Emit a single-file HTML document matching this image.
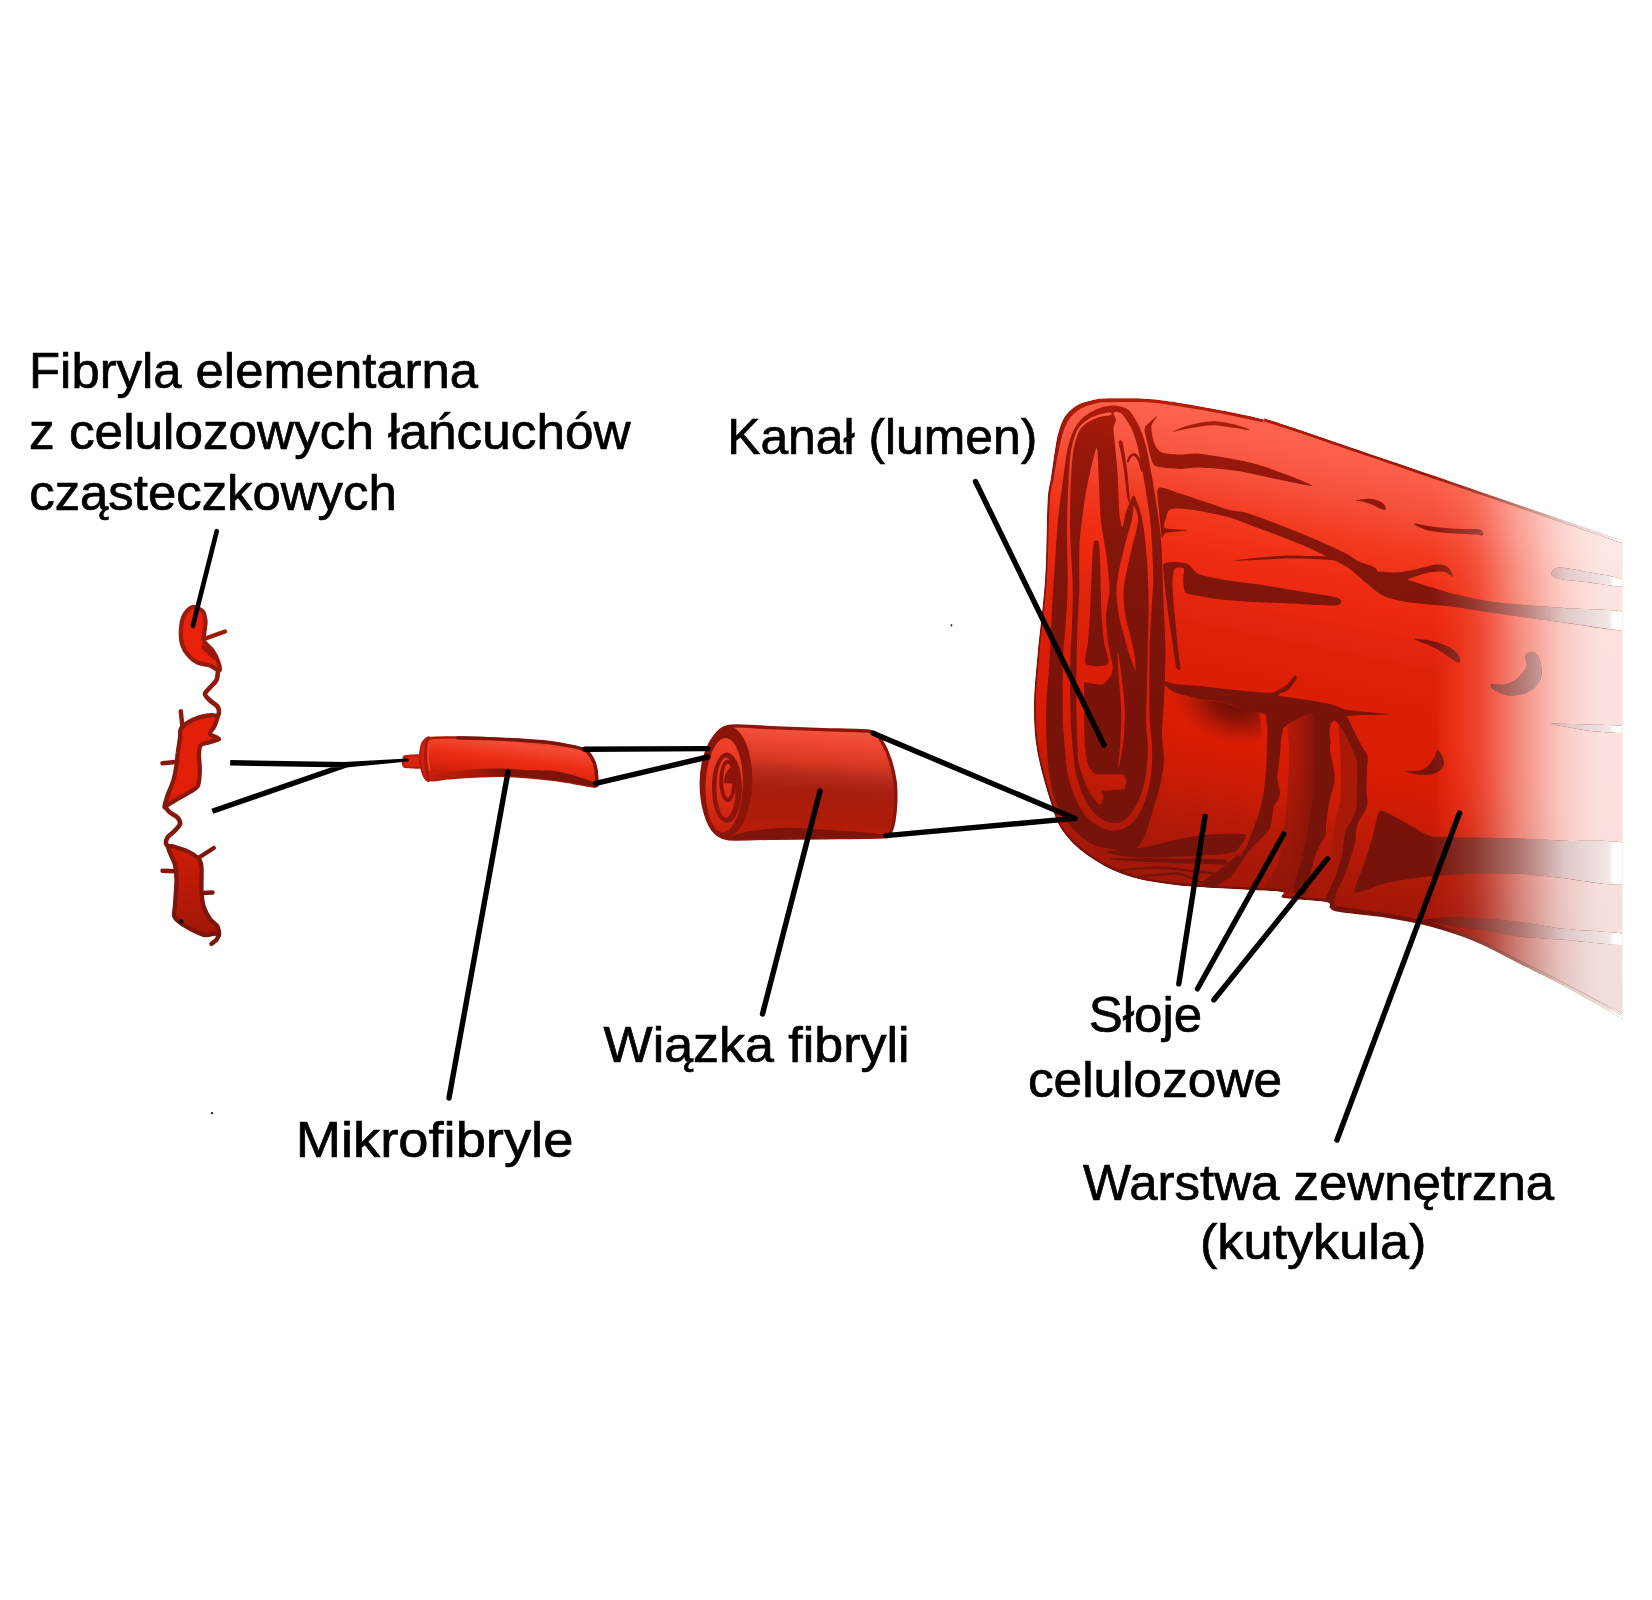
<!DOCTYPE html>
<html lang="pl">
<head>
<meta charset="utf-8">
<title>Budowa włókna bawełny</title>
<style>
html,body{margin:0;padding:0;background:#fff;}
body{width:1652px;height:1600px;overflow:hidden;}
svg{display:block;}
text{font-family:"Liberation Sans",sans-serif;fill:#000;}
.ln{stroke:#000;stroke-width:5.4;stroke-linecap:round;fill:none;}
</style>
</head>
<body>
<svg width="1652" height="1600" viewBox="0 0 1652 1600">
<defs>
<linearGradient id="gBody" gradientUnits="userSpaceOnUse" x1="1250" y1="400" x2="1150" y2="900"><stop offset="0" stop-color="#fd6651"/><stop offset="0.08" stop-color="#fb5f4a"/><stop offset="0.154" stop-color="#f6503a"/><stop offset="0.229" stop-color="#f23a20"/><stop offset="0.3" stop-color="#f02e14"/><stop offset="0.36" stop-color="#ec2910"/><stop offset="0.42" stop-color="#e2250f"/><stop offset="0.46" stop-color="#de220a"/><stop offset="0.54" stop-color="#dd1e06"/><stop offset="0.62" stop-color="#dc1d05"/><stop offset="0.68" stop-color="#d81c04"/><stop offset="0.744" stop-color="#cc1c05"/><stop offset="0.82" stop-color="#b81a07"/><stop offset="0.9" stop-color="#a81808"/><stop offset="1" stop-color="#9a1608"/></linearGradient>
<linearGradient id="gDark" gradientUnits="userSpaceOnUse" x1="1250" y1="400" x2="1200" y2="900"><stop offset="0" stop-color="#bc1f09"/><stop offset="0.06" stop-color="#a81a09"/><stop offset="0.13" stop-color="#98180a"/><stop offset="0.25" stop-color="#8a160a"/><stop offset="0.45" stop-color="#7c140a"/><stop offset="1" stop-color="#74130a"/></linearGradient>
<linearGradient id="gFade" gradientUnits="userSpaceOnUse" x1="1432" y1="0" x2="1622.5" y2="0"><stop offset="0.000" stop-color="#fff" stop-opacity="0.0"/><stop offset="0.079" stop-color="#fff" stop-opacity="0.027"/><stop offset="0.157" stop-color="#fff" stop-opacity="0.054"/><stop offset="0.231" stop-color="#fff" stop-opacity="0.117"/><stop offset="0.304" stop-color="#fff" stop-opacity="0.215"/><stop offset="0.378" stop-color="#fff" stop-opacity="0.332"/><stop offset="0.451" stop-color="#fff" stop-opacity="0.453"/><stop offset="0.525" stop-color="#fff" stop-opacity="0.547"/><stop offset="0.598" stop-color="#fff" stop-opacity="0.646"/><stop offset="0.672" stop-color="#fff" stop-opacity="0.735"/><stop offset="0.745" stop-color="#fff" stop-opacity="0.789"/><stop offset="0.819" stop-color="#fff" stop-opacity="0.834"/><stop offset="0.892" stop-color="#fff" stop-opacity="0.861"/><stop offset="1.000" stop-color="#fff" stop-opacity="0.865"/></linearGradient>
<linearGradient id="gLighten" gradientUnits="userSpaceOnUse" x1="1432" y1="0" x2="1622.5" y2="0"><stop offset="0.000" stop-color="#c81806"/><stop offset="0.042" stop-color="#e2220a"/><stop offset="0.157" stop-color="#ec2a10"/><stop offset="0.462" stop-color="#ec2a10"/><stop offset="1.000" stop-color="#ec2a10"/></linearGradient>
<linearGradient id="gFadeD" gradientUnits="userSpaceOnUse" x1="1432" y1="0" x2="1622.5" y2="0"><stop offset="0" stop-color="#fff" stop-opacity="0"/><stop offset="0.23" stop-color="#fff" stop-opacity="0.16"/><stop offset="0.47" stop-color="#fff" stop-opacity="0.43"/><stop offset="0.7" stop-color="#fff" stop-opacity="0.77"/><stop offset="0.93" stop-color="#fff" stop-opacity="0.9"/><stop offset="0.955" stop-color="#fff" stop-opacity="1"/><stop offset="1" stop-color="#fff" stop-opacity="1"/></linearGradient>
<linearGradient id="gCol" gradientUnits="userSpaceOnUse" x1="1289" y1="0" x2="1317" y2="0"><stop offset="0" stop-color="#7a140a" stop-opacity="0.42"/><stop offset="0.5" stop-color="#7a140a" stop-opacity="0.62"/><stop offset="1" stop-color="#7a140a" stop-opacity="1"/></linearGradient>
<linearGradient id="gOut" gradientUnits="userSpaceOnUse" x1="1040" y1="0" x2="1622.5" y2="0"><stop offset="0" stop-color="#bb1e0a"/><stop offset="0.2" stop-color="#b01c0a"/><stop offset="0.42" stop-color="#8c160a"/><stop offset="0.675" stop-color="#7c1408"/><stop offset="0.75" stop-color="#964238"/><stop offset="0.826" stop-color="#bd8c84"/><stop offset="0.9" stop-color="#e2d0cc"/><stop offset="0.975" stop-color="#f5ecea"/><stop offset="1" stop-color="#ffffff"/></linearGradient>
<radialGradient id="gShadow"><stop offset="0" stop-color="#6a1006" stop-opacity="0.95"/><stop offset="0.3" stop-color="#6a1006" stop-opacity="0.8"/><stop offset="0.6" stop-color="#6a1006" stop-opacity="0.4"/><stop offset="0.85" stop-color="#6a1006" stop-opacity="0.1"/><stop offset="1" stop-color="#6a1006" stop-opacity="0"/></radialGradient>
<linearGradient id="gLm" gradientUnits="userSpaceOnUse" x1="1520" y1="760" x2="1490" y2="880"><stop offset="0" stop-color="#fff"/><stop offset="1" stop-color="#000"/></linearGradient>
<mask id="mLighten" maskUnits="userSpaceOnUse" x="1430" y="380" width="196" height="660"><rect x="1430" y="380" width="196" height="660" fill="url(#gLm)"/></mask>
<clipPath id="cSil"><path d="M1100 398.5C1107 398.5 1130.8 398.1 1142 398.5C1153.2 398.9 1158.7 399.9 1167 401C1175.3 402.1 1181.5 403.2 1192 405C1202.5 406.8 1218.3 409.7 1230 412C1241.7 414.3 1250.3 416 1262 419C1273.7 422 1239.9 409.8 1300 430C1360.1 450.2 1568.8 522.1 1622.5 540.5L1622.5 1019C1612.8 1013.5 1581.1 995.2 1564 986C1546.9 976.8 1534.7 971.3 1520 964C1505.3 956.7 1490.7 948.2 1476 942C1461.3 935.8 1446.7 931 1432 927C1417.3 923 1403.3 920.5 1388 918C1372.7 915.5 1349.7 913.7 1340 912C1330.3 910.3 1332.3 909.7 1330 908C1327.7 906.3 1333.7 903.7 1326 902C1318.3 900.3 1291.3 899.7 1284 898C1276.7 896.3 1287.7 893.3 1282 892C1276.3 890.7 1267.8 891.2 1250 890C1232.2 888.8 1195.8 887.5 1175 885C1154.2 882.5 1139.7 880 1125 875C1110.3 870 1097.5 862.5 1087 855C1076.5 847.5 1068.2 839.2 1062 830C1055.8 820.8 1054.2 813.3 1050 800C1045.8 786.7 1039.7 765.8 1037 750C1034.3 734.2 1033.9 720.8 1034 705C1034.1 689.2 1035.7 675.8 1037.5 655C1039.3 634.2 1043.3 605.4 1045 580C1046.7 554.6 1046.5 519.6 1047.5 502.5C1048.5 485.4 1049.8 486.2 1051 477.5C1052.2 468.8 1053.7 457.8 1055 450C1056.3 442.2 1056.9 436.8 1058.8 431C1060.6 425.2 1062.5 419.5 1066 415C1069.5 410.5 1074.3 406.5 1080 403.8C1085.7 401 1096.7 399.4 1100 398.5Z"/></clipPath>
<filter id="fBlur" x="-50%" y="-50%" width="200%" height="200%"><feGaussianBlur stdDeviation="9"/></filter>
<clipPath id="cRing"><path d="M1100 398.5C1107 398.5 1130.8 398.1 1142 398.5C1153.2 398.9 1158.7 399.9 1167 401C1175.3 402.1 1181.5 403.2 1192 405C1202.5 406.8 1218.3 409.7 1230 412C1241.7 414.3 1250.3 416 1262 419C1273.7 422 1239.9 409.8 1300 430C1360.1 450.2 1568.8 522.1 1622.5 540.5L1622.5 1019C1612.8 1013.5 1581.1 995.2 1564 986C1546.9 976.8 1534.7 971.3 1520 964C1505.3 956.7 1490.7 948.2 1476 942C1461.3 935.8 1446.7 931 1432 927C1417.3 923 1403.3 920.5 1388 918C1372.7 915.5 1349.7 913.7 1340 912C1330.3 910.3 1332.3 909.7 1330 908C1327.7 906.3 1333.7 903.7 1326 902C1318.3 900.3 1291.3 899.7 1284 898C1276.7 896.3 1287.7 893.3 1282 892C1276.3 890.7 1267.8 891.2 1250 890C1232.2 888.8 1195.8 887.5 1175 885C1154.2 882.5 1139.7 880 1125 875C1110.3 870 1097.5 862.5 1087 855C1076.5 847.5 1068.2 839.2 1062 830C1055.8 820.8 1054.2 813.3 1050 800C1045.8 786.7 1039.7 765.8 1037 750C1034.3 734.2 1033.9 720.8 1034 705C1034.1 689.2 1035.7 675.8 1037.5 655C1039.3 634.2 1043.3 605.4 1045 580C1046.7 554.6 1046.5 519.6 1047.5 502.5C1048.5 485.4 1049.8 486.2 1051 477.5C1052.2 468.8 1053.7 457.8 1055 450C1056.3 442.2 1056.9 436.8 1058.8 431C1060.6 425.2 1062.5 419.5 1066 415C1069.5 410.5 1074.3 406.5 1080 403.8C1085.7 401 1096.7 399.4 1100 398.5Z M1100.3 402.3C1107.2 402.3 1130.8 401.7 1141.9 402.1C1152.9 402.5 1158.3 403.4 1166.5 404.5C1174.8 405.5 1180.9 406.6 1191.4 408.3C1201.9 410.1 1217.7 412.9 1229.4 415.2C1241 417.5 1249.6 419.2 1261.2 422.1C1272.8 425 1238.7 412.6 1299 432.8C1359.4 453.1 1569.3 525.1 1623.4 543.5L1623.4 1016C1613.7 1010.6 1582.4 992.5 1565.4 983.4C1548.4 974.2 1536.1 968.7 1521.3 961.3C1506.6 954 1491.9 945.4 1477.2 939.2C1462.4 933 1447.6 928.1 1432.8 924.1C1418 920.1 1403.9 917.5 1388.5 915C1373.1 912.5 1350 910.6 1340.5 909C1331.1 907.5 1334.1 907.2 1331.7 905.6C1329.4 903.9 1334.5 900.8 1326.6 899.1C1318.8 897.4 1291.9 897.1 1284.6 895.5C1277.2 893.9 1288.3 890.8 1282.6 889.5C1276.9 888.1 1268.1 888.6 1250.2 887.4C1232.3 886.2 1196 884.9 1175.3 882.4C1154.6 879.9 1140.3 877.4 1125.8 872.5C1111.4 867.6 1098.7 860.3 1088.4 853C1078.1 845.8 1069.9 837.7 1063.8 828.8C1057.7 819.8 1056.1 812.6 1051.9 799.4C1047.8 786.2 1041.6 765.4 1038.9 749.7C1036.2 734 1035.7 720.8 1035.8 705C1035.9 689.3 1037.5 676 1039.3 655.2C1041.1 634.3 1045.1 605.5 1046.8 580.1C1048.5 554.7 1048.5 519.7 1049.7 502.6C1050.9 485.6 1052.3 486.6 1053.8 477.9C1055.2 469.2 1057 458.2 1058.6 450.6C1060.1 443 1061.2 437.8 1063.1 432.4C1065 427 1066.8 422.2 1069.9 418.1C1073.1 414 1076.9 410.5 1082 407.9C1087.1 405.3 1097.3 403.2 1100.3 402.3Z" clip-rule="evenodd"/></clipPath>
<clipPath id="cDark"><path d="M1172.5 431.8C1172.1 431.3 1183.3 426.8 1190 425C1196.7 423.2 1205 421.3 1212.5 421.2C1220 421.2 1228.8 423 1235 424.5C1241.2 426 1250 429.4 1250 430C1250 430.6 1241.2 428.8 1235 428C1228.8 427.2 1219.6 425.3 1212.5 425.2C1205.4 425.2 1199.2 426.7 1192.5 427.8C1185.8 428.8 1172.9 432.2 1172.5 431.8Z"/><path d="M1157.2 416C1157.5 416.4 1152.1 423 1151.5 426C1150.9 429 1152.3 435.8 1153 438.7C1153.7 441.6 1155.1 445.6 1156.4 447.5C1157.7 449.4 1159.4 451.8 1162.5 452.7C1165.6 453.6 1175 454.4 1180 454.5C1185 454.6 1190.7 452.7 1200 453.8C1209.3 454.8 1238.3 459.7 1250 462.5C1261.7 465.3 1279.2 471.9 1287.5 475C1295.8 478.1 1314.2 485.5 1312.5 486C1310.8 486.5 1285 480.8 1275 478.8C1265 476.8 1247.5 472.5 1237.5 471C1227.5 469.5 1207.7 467.8 1200 467.5C1192.3 467.2 1185 469 1180 469C1175 469 1166 468.1 1162.5 467.6C1159 467.1 1155.7 466.7 1154 465C1152.3 463.3 1150.9 457.8 1150 455C1149.1 452.2 1148.3 447.5 1147.6 444C1146.9 440.5 1144.3 431.8 1144.5 429C1144.7 426.2 1147.3 424.7 1149 423C1150.7 421.3 1156.9 415.6 1157.2 416Z"/><path d="M1158.5 488C1161.3 485.8 1174.1 491.8 1180 493.5C1185.9 495.2 1195.8 498.8 1202.5 501C1209.2 503.2 1223.7 508.3 1230 510C1236.3 511.7 1240.7 510.9 1250 514C1259.3 517.1 1287.5 527.9 1300 533C1312.5 538.1 1334.3 547.6 1344 552.5C1353.7 557.4 1364.7 566.5 1372.6 570C1380.5 573.5 1392.5 575.2 1403.4 578.4C1414.3 581.6 1441.4 590.6 1454 593.8C1466.6 597 1483.3 600.7 1498 602.6C1512.7 604.5 1547.2 606.7 1564 608C1580.8 609.3 1616 609.1 1624 612C1632 614.9 1632 628.6 1624 630C1616 631.4 1580.8 624.6 1564 622.4C1547.2 620.2 1512.7 615.7 1498 613.6C1483.3 611.5 1465.7 608.5 1454 607C1442.3 605.5 1419.4 604.1 1410 602.6C1400.6 601.1 1389.5 598.6 1383.6 596C1377.7 593.4 1371.3 586.9 1366 582.8C1360.7 578.7 1352.8 570.4 1344 565.2C1335.2 560 1312.5 549.4 1300 544C1287.5 538.6 1259.3 528.5 1250 525C1240.7 521.5 1236.3 519.3 1230 517.5C1223.7 515.7 1209.2 512.7 1202.5 511.5C1195.8 510.3 1184.4 508.7 1180 508.5C1175.6 508.3 1171.4 508.7 1169.5 510C1167.6 511.3 1166.6 515.6 1166 518C1165.4 520.4 1162.1 526.4 1165 528C1167.9 529.6 1187.4 529.6 1187.5 530.3C1187.6 531 1169.4 532 1166 533C1162.6 534 1162.7 539.1 1162 538C1161.3 536.9 1160.9 528.7 1160.5 525C1160.1 521.3 1159.3 514.9 1159 510C1158.7 505.1 1155.7 490.2 1158.5 488Z"/><path d="M1372.6 571.8C1374.9 570.6 1391.4 572.9 1399 572.3C1406.6 571.6 1417.6 568.6 1423.2 567.4C1428.8 566.3 1432.7 564.6 1436.4 564.5C1440.1 564.5 1445.4 565.1 1447.8 567C1450.3 568.8 1453.1 576.1 1452.7 576.9C1452.3 577.6 1448.3 572.8 1445.2 572C1442.1 571.3 1436.6 571.3 1432 572C1427.4 572.7 1418.7 575.4 1414.4 576.7C1410.1 577.9 1408 580 1403.4 580.6C1398.8 581.2 1388.2 581.9 1383.6 580.6C1379 579.3 1370.3 573.1 1372.6 571.8Z"/><path d="M1236 560.8C1240.4 560.7 1253.6 560.1 1262.1 559.7C1270.6 559.3 1278.7 558.6 1287 558.5C1295.3 558.4 1304.3 558.7 1312 559C1319.6 559.3 1326.2 559.3 1332.8 560.3C1339.3 561.3 1344.6 562.3 1351.2 564.9C1357.8 567.4 1368.4 575.1 1372.4 575.7C1376.5 576.2 1378.9 570.9 1375.6 568.3C1372.3 565.7 1359.8 562.1 1352.8 560.1C1345.7 558.2 1340 557.4 1333.2 556.7C1326.4 556 1319.8 556.2 1312 556C1304.3 555.8 1295.3 555.3 1287 555.5C1278.6 555.7 1270.4 556.5 1261.9 557.3C1253.4 558.1 1240.3 559.6 1236 560.2C1231.7 560.8 1231.7 560.9 1236 560.8Z"/><path d="M1163.8 563.8C1165.1 562.2 1172.2 562 1175 562C1177.8 562 1185.3 562.8 1187.5 563.8C1189.7 564.7 1192.3 568.7 1193.8 570C1195.2 571.3 1196.4 573.3 1200 574.5C1203.6 575.7 1217.7 578.8 1225 580C1232.3 581.2 1253.8 583.7 1262.5 585C1271.2 586.3 1291.5 589.9 1300 591.2C1308.5 592.6 1330.2 595.8 1335 597C1339.8 598.2 1341.5 600.3 1341.5 601.2C1341.5 602.2 1339.8 605.2 1335 605.5C1330.2 605.8 1308.5 604.4 1300 604C1291.5 603.6 1271.2 603 1262.5 602.5C1253.8 602 1232.3 600.7 1225 600C1217.7 599.3 1204.6 597.1 1200 596.2C1195.4 595.4 1187.5 594.4 1185.5 592.5C1183.5 590.6 1183.5 582.8 1183.2 580C1183 577.2 1184.7 569.8 1183.8 568.5C1182.8 567.2 1176.6 567.2 1175.2 568.5C1173.9 569.8 1172.7 575.7 1172.5 580C1172.3 584.3 1173.3 599.2 1173.8 605C1174.2 610.8 1175.7 624.2 1176.2 630C1176.8 635.8 1178.3 650.5 1178.8 655C1179.2 659.5 1180.8 667.3 1180.5 668.8C1180.2 670.2 1177.2 670.6 1176.2 667.5C1175.3 664.4 1173.4 648.3 1172.5 642.5C1171.6 636.7 1169.6 623.3 1168.8 617.5C1167.9 611.7 1166.1 597.5 1165.5 592.5C1164.9 587.5 1164 578.4 1163.8 575C1163.5 571.6 1162.4 565.3 1163.8 563.8Z"/><path d="M1356.1 500.3C1357.2 499.8 1366 498.4 1370.4 498.8C1374.8 499.2 1379.9 501 1382.5 502.7C1385.1 504.5 1386.1 508.3 1385.8 509.3C1385.6 510.4 1383.2 509.9 1381 509.1C1378.8 508.3 1375.5 505.9 1372.6 504.7C1369.8 503.5 1366.6 502.6 1363.8 501.9C1361.1 501.1 1355 500.8 1356.1 500.3Z"/><path d="M1414.4 523.4C1416.6 523.3 1425.4 525.6 1432 526.5C1438.6 527.4 1446.7 528.2 1454 528.7C1461.4 529.1 1471.3 528.7 1476 529.1C1480.7 529.5 1481.1 530 1482.2 531.1C1483.3 532.2 1483.6 535.1 1482.6 535.7C1481.6 536.3 1480.8 535 1476 534.6C1471.3 534.3 1461.4 534.1 1454 533.5C1446.7 533 1437.9 532.4 1432 531.3C1426.1 530.2 1421.7 528.2 1418.8 526.9C1415.9 525.6 1412.2 523.5 1414.4 523.4Z"/><path d="M1414.4 638.9C1415.1 638.3 1426.1 639.5 1432 640.9C1437.9 642.3 1445.2 644.9 1449.6 647.3C1454 649.6 1456.7 652.5 1458.4 655C1460.1 657.5 1460.8 661.8 1459.7 662.5C1458.6 663.1 1455 660.8 1451.8 658.9C1448.7 657.1 1444.8 653.8 1440.8 651.5C1436.8 649.1 1432 646.7 1427.6 644.6C1423.2 642.5 1413.7 639.5 1414.4 638.9Z"/><path d="M1525.5 655.4C1526.6 653 1531 651.5 1533.2 651.9C1535.5 652.3 1537.5 654.1 1538.9 657.6C1540.4 661.1 1542 668.6 1541.8 673C1541.6 677.4 1540.1 680.7 1537.6 684C1535.1 687.3 1531.4 690.9 1526.6 692.8C1521.9 694.7 1514.5 696 1509 695.5C1503.5 695 1496.6 691.7 1493.6 689.8C1490.7 687.8 1489.6 684.9 1491.4 684C1493.3 683.1 1500.2 685.5 1504.6 684.5C1509 683.4 1514.2 680.9 1517.8 677.9C1521.5 674.9 1525.3 670.2 1526.6 666.4C1527.9 662.7 1524.4 657.8 1525.5 655.4Z"/><path d="M1437.5 750.2C1439 750.1 1442 754.6 1443 757.2C1444 759.9 1444.5 763.4 1443.5 766C1442.4 768.6 1439.8 771.3 1436.4 772.8C1433 774.3 1428.3 775.2 1423.2 775C1418.1 774.8 1406.3 772.2 1405.6 771.5C1404.9 770.8 1415.1 771.5 1418.8 770.6C1422.5 769.8 1425 768.4 1427.6 766.2C1430.2 764.1 1432.6 760.3 1434.2 757.6C1435.9 755 1436 750.2 1437.5 750.2Z"/><path d="M1551.9 571.8C1553 570.4 1553.9 567.6 1559.6 567.6C1565.3 567.6 1575.8 569.9 1586 571.8C1596.3 573.7 1615.4 576.4 1621.2 578.9C1627.1 581.3 1627.1 585.8 1621.2 586.3C1615.4 586.9 1595.6 583 1586 581.9C1576.5 580.8 1569.5 580.7 1564 579.7C1558.5 578.8 1555 577.8 1553 576.4C1551 575.1 1550.8 573.3 1551.9 571.8Z"/><path d="M1550.8 723.6C1550.8 723 1579 724.3 1586 724.5C1593.1 724.7 1617.7 725 1621.2 725.8C1624.8 726.7 1624.8 732.4 1621.2 732.9C1617.7 733.3 1593.1 731.4 1586 730.5C1579 729.5 1550.8 724.2 1550.8 723.6Z"/><path d="M1164 681C1165.2 680.9 1170.8 683.4 1175 684C1179.2 684.6 1194.2 685.4 1200 686C1205.8 686.6 1219.2 688.4 1225 689C1230.8 689.6 1244.5 691.1 1250 691.5C1255.5 691.9 1268.1 693.4 1272.5 692.5C1276.9 691.6 1284.9 686 1287.5 684C1290.1 682 1294 675.6 1295 675C1296 674.4 1297.3 677.2 1296.5 679C1295.7 680.8 1290.2 688.1 1288 690C1285.8 691.9 1276.6 694.5 1278 695.5C1279.4 696.5 1294.2 697.8 1300 698.8C1305.8 699.7 1323.3 702.5 1328 703.5C1332.7 704.5 1337.7 706.7 1340 707.5C1342.3 708.3 1342.2 709.2 1348 710C1353.8 710.8 1389.2 713.7 1390 714.3C1390.8 714.9 1360.1 715.1 1355 715.4C1349.9 715.7 1348.2 716 1346 716.5C1343.8 717 1337.9 718.7 1336 719.5C1334.1 720.3 1332.3 723.6 1330 723C1327.7 722.4 1318.8 714.9 1316 714C1313.2 713.1 1309 714 1306 715C1303 716 1292.8 721.5 1290 723C1287.2 724.5 1284.6 728.8 1282 728C1279.4 727.2 1270.6 717.8 1268 716C1265.4 714.2 1261.6 713.4 1259.5 712.8C1257.4 712.2 1252.3 711.6 1250 711C1247.7 710.4 1242.9 709 1240 708C1237.1 707 1229.7 703.6 1225 702.5C1220.3 701.4 1205.8 699.9 1200 698.8C1194.2 697.6 1179.1 694.1 1175 692.5C1170.9 690.9 1166.3 686.3 1165 685C1163.7 683.7 1162.8 681.1 1164 681Z"/><path d="M1266.8 714C1264.8 714.4 1267.5 725.2 1267.5 730C1267.5 734.8 1267.2 744.7 1267 750C1266.8 755.3 1266.4 764.7 1266 770C1265.6 775.3 1264.8 784.7 1264 790C1263.2 795.3 1261.5 804.7 1260 810C1258.5 815.3 1254.7 825.3 1253 830C1251.3 834.7 1248.7 841.5 1247 845C1245.3 848.5 1241.3 854.7 1240 856C1238.7 857.3 1240.3 853.1 1237.5 855C1234.7 856.9 1223.3 866.4 1218.8 870C1214.2 873.6 1205 879.9 1203 882C1201 884.1 1202.7 885.2 1204 886C1205.3 886.8 1208.9 889.3 1212.5 888C1216.1 886.7 1226.9 879.7 1231 876C1235.1 872.3 1240.5 863.5 1243 860C1245.5 856.5 1247.7 852.7 1250 850C1252.3 847.3 1257.3 842.9 1260 840C1262.7 837.1 1268.3 831.3 1270 828C1271.7 824.7 1272 817.9 1272.5 815C1273 812.1 1273.3 808 1274 806C1274.7 804 1277.2 801.9 1278 800C1278.8 798.1 1280.1 794.9 1280 792C1279.9 789.1 1277.5 782.9 1277.5 778C1277.5 773.1 1279.5 760.1 1280 755C1280.5 749.9 1280.7 743.7 1281 740C1281.3 736.3 1284.3 730.5 1282.4 727C1280.5 723.5 1268.8 713.6 1266.8 714Z"/><path d="M1316 712.6C1314.1 714.9 1316.1 732.3 1316 740C1315.9 747.7 1315.8 763.3 1315.5 770C1315.2 776.7 1314.6 784.7 1314 790C1313.4 795.3 1311.8 804.7 1311 810C1310.2 815.3 1308.9 824.7 1308 830C1307.1 835.3 1304.8 846 1304 850C1303.2 854 1302.9 856.7 1302 860C1301.1 863.3 1298.1 870.7 1297 875C1295.9 879.3 1292.8 889.5 1294 892C1295.2 894.5 1303.9 896.1 1306 894C1308.1 891.9 1308.9 880.5 1310 876C1311.1 871.5 1313.2 863.1 1314 860C1314.8 856.9 1315.2 855 1316 853C1316.8 851 1318.7 847.4 1320 845C1321.3 842.6 1324.7 837.7 1325.5 835C1326.3 832.3 1325.7 828.3 1326 825C1326.3 821.7 1327.3 814 1328 810C1328.7 806 1330.2 798.3 1331 795C1331.8 791.7 1333.5 787.7 1334 785C1334.5 782.3 1334.6 777.7 1334.5 775C1334.4 772.3 1333.6 768.3 1333 765C1332.4 761.7 1330.3 753.1 1330 750C1329.7 746.9 1330.6 744.7 1330.5 742C1330.4 739.3 1329.5 732.6 1329.5 730C1329.5 727.4 1332 724.9 1330.2 722.6C1328.4 720.3 1317.9 710.3 1316 712.6Z"/><path d="M1335 719C1334.2 720.3 1338.3 723.2 1340 726C1341.7 728.8 1346 736 1348 740C1350 744 1353.8 752.7 1355 756C1356.2 759.3 1356.7 760.5 1357 765C1357.3 769.5 1357.1 784.7 1357 790C1356.9 795.3 1356.9 801.7 1356.5 805C1356.1 808.3 1354.9 812.6 1354 815C1353.1 817.4 1351.1 821 1350 823C1348.9 825 1346.8 827.7 1346 830C1345.2 832.3 1344.5 836.7 1344 840C1343.5 843.3 1343.1 850.3 1342 855C1340.9 859.7 1337.9 869.9 1336 875C1334.1 880.1 1329.5 889.5 1328 893C1326.5 896.5 1324.3 898.7 1325 901C1325.7 903.3 1331.5 911 1333 910C1334.5 909 1334.3 898.7 1336 893.6C1337.7 888.5 1343.5 878.7 1346 872C1348.5 865.3 1353.7 848.3 1355 843C1356.3 837.7 1355.6 834.7 1356 832C1356.4 829.3 1356.7 825.9 1358 823C1359.3 820.1 1364.2 812.8 1365.5 810C1366.8 807.2 1367.4 804.7 1367.5 802C1367.6 799.3 1366.6 794.3 1366.5 790C1366.4 785.7 1366.9 774.5 1367 770C1367.1 765.5 1368 758.9 1367.5 756C1367 753.1 1364.7 751.1 1363 748C1361.3 744.9 1357.3 737.3 1355 733C1352.7 728.7 1348.7 717.9 1346 716C1343.3 714.1 1335.8 717.7 1335 719Z"/><path d="M1380 811C1382.6 809.3 1395.6 817.3 1399 819C1402.4 820.7 1410.7 825.9 1414 827.6C1417.3 829.3 1425.8 835.4 1432 836.4C1438.2 837.4 1467.2 837.3 1476 837.5C1484.8 837.7 1511.2 838.3 1520 838.6C1528.8 838.9 1553.6 840.3 1564 840.8C1574.4 841.3 1618 839.2 1624 843.5C1630 847.8 1630 880.5 1624 884C1618 887.5 1574.4 879.2 1564 878.2C1553.6 877.2 1528.8 874.2 1520 873.8C1511.2 873.4 1484.8 873.6 1476 873.8C1467.2 874 1440.8 875.1 1432 876C1423.2 876.9 1395.7 881 1388 882.6C1380.3 884.2 1357.4 894.3 1355 892.5C1352.6 890.7 1362 870.6 1363.8 865C1365.6 859.4 1371 841.8 1372.6 836.4C1374.2 831 1377.4 812.7 1380 811Z"/><path d="M1423 920C1423 918.7 1446.9 917 1454 916.7C1461.1 916.4 1467.2 917.1 1476 917.8C1484.8 918.5 1508.3 920.5 1520 922C1531.7 923.5 1550.1 927.2 1564 928.8C1577.9 930.4 1616 931.8 1624 934C1632 936.2 1632 944.2 1624 945C1616 945.8 1577.9 940.9 1564 939.8C1550.1 938.7 1530.3 937.7 1520 936.5C1509.7 935.3 1495.8 932.3 1487 931C1478.2 929.7 1462.5 928.1 1454 926.6C1445.5 925.1 1423 921.3 1423 920Z"/><path d="M1325 899C1326.2 899.3 1331.2 903.9 1334 905C1336.8 906.1 1338.8 906.4 1346 907.5C1353.2 908.6 1376.5 911.5 1388 913.5C1399.5 915.5 1420.3 919.2 1432 922.5C1443.7 925.8 1464.3 932.9 1476 938C1487.7 943.1 1508.3 954.5 1520 960.5C1531.7 966.5 1550.1 975.8 1564 983C1577.9 990.2 1616 1009.7 1624 1014.5C1632 1019.3 1632 1022.7 1624 1019C1616 1015.3 1577.9 994.2 1564 987C1550.1 979.8 1531.7 970.9 1520 965C1508.3 959.1 1487.7 947.9 1476 943C1464.3 938.1 1443.7 931.2 1432 928C1420.3 924.8 1400.3 921 1388 919C1375.7 917 1347.7 914.3 1340 913C1332.3 911.7 1332 910.3 1330 909C1328 907.7 1325.7 904.3 1325 903C1324.3 901.7 1323.8 898.7 1325 899Z"/><path d="M1105 852C1105.7 850.9 1128.3 849.7 1135 848.8C1141.7 847.8 1149 846.3 1155 845C1161 843.7 1173.3 840.1 1180 838.8C1186.7 837.4 1198.2 835.7 1205 835C1211.8 834.3 1225.5 833.8 1231 833.8C1236.5 833.8 1244.5 833.8 1246 835C1247.5 836.2 1243.8 840.4 1242.5 842.5C1241.2 844.6 1238.3 849.5 1236 851C1233.7 852.5 1229.1 853.1 1225 853.8C1220.9 854.4 1211 855.1 1205 855.5C1199 855.9 1186.7 856.2 1180 856.5C1173.3 856.8 1161.7 857.4 1155 857.5C1148.3 857.6 1136.7 857.7 1130 857C1123.3 856.3 1104.3 853.1 1105 852Z"/><path d="M1113.7 860C1118.5 860.6 1131.4 861.2 1142.4 861.7C1153.5 862.3 1169.5 862.9 1180 863.2C1190.4 863.6 1198 863.7 1205 863.9C1211.9 864.1 1218.3 864.4 1221.9 864.4C1225.5 864.4 1225.6 864.4 1226.4 863.7C1227.2 863.1 1227.3 861 1226.6 860.3C1225.9 859.5 1225.7 859.5 1222.1 859.2C1218.5 858.9 1212.1 858.8 1205 858.7C1198 858.6 1190.5 858.8 1180 858.8C1169.6 858.7 1153.6 858.4 1142.6 858.3C1131.5 858.1 1118.6 857.7 1113.8 858C1109 858.3 1108.9 859.4 1113.7 860Z"/><path d="M1117.6 871.4C1120.7 871.4 1130.1 870.2 1136.3 869.8C1142.6 869.4 1148.8 868.9 1155 869C1161.2 869 1167.4 869.4 1173.6 869.9C1179.9 870.5 1186.1 871.7 1192.4 872.4C1198.6 873.2 1204.8 873.5 1211.1 874.3C1217.3 875.1 1226.6 877.3 1229.8 877.5C1233 877.7 1233.2 876.4 1230.2 875.5C1227.1 874.6 1217.7 872.8 1211.4 871.9C1205.2 871 1198.9 870.8 1192.6 870.1C1186.4 869.3 1180.1 868.1 1173.9 867.6C1167.6 867 1161.3 866.5 1155 866.5C1148.7 866.6 1142.4 867.1 1136.2 867.7C1129.9 868.2 1120.5 869.3 1117.4 869.9C1114.3 870.5 1114.4 871.4 1117.6 871.4Z"/><path d="M1130.1 878.9C1133.3 878.8 1142.6 877.3 1148.9 876.7C1155.1 876.1 1162.4 875.5 1167.6 875.2C1172.7 874.9 1175.7 874.4 1179.8 875.2C1183.9 876 1187.9 878.2 1192.1 879.9C1196.2 881.5 1202.4 884.4 1204.6 884.9C1206.8 885.5 1207.3 884.3 1205.4 883.1C1203.4 881.9 1197.1 879.3 1192.9 877.6C1188.8 875.9 1184.5 873.6 1180.2 872.8C1176 872 1172.7 872.5 1167.4 872.8C1162.2 873.1 1154.9 873.8 1148.6 874.5C1142.4 875.3 1133 876.7 1129.9 877.4C1126.8 878.1 1126.9 879 1130.1 878.9Z"/><path d="M1112 405.5C1107.7 405.5 1099.9 407.8 1096 409.5C1092.1 411.2 1085.5 415.2 1082.5 418C1079.5 420.8 1075.4 426.6 1073.5 430.5C1071.6 434.4 1069.1 442.4 1068 447C1066.9 451.6 1065.8 459.6 1065 465C1064.2 470.4 1062.8 481.5 1062 487.5C1061.2 493.5 1059.7 504 1059 510C1058.3 516 1057.5 526.5 1057 532.5C1056.5 538.5 1055.9 549 1055.5 555C1055.1 561 1054.4 571.5 1054 577.5C1053.6 583.5 1052.9 593 1052.5 600C1052.1 607 1051.3 623.3 1051 630C1050.7 636.7 1050.3 644 1050 650C1049.7 656 1049 668.3 1048.5 675C1048 681.7 1046.8 693.3 1046.5 700C1046.2 706.7 1045.9 718.3 1046 725C1046.1 731.7 1046.6 743.7 1047 750C1047.4 756.3 1048.1 765.7 1049 772C1049.9 778.3 1052.4 791.7 1054 797C1055.6 802.3 1058.6 807.9 1061 812C1063.4 816.1 1068.1 823.9 1072 828C1075.9 832.1 1084.9 840.2 1090 843C1095.1 845.8 1104.3 848.1 1110 849C1115.7 849.9 1128.9 850.8 1133 850C1137.1 849.2 1139.3 845.3 1141 843C1142.7 840.7 1144.5 837.1 1146 833C1147.5 828.9 1150.6 818.3 1152.5 812C1154.4 805.7 1158.5 792.9 1160 786C1161.5 779.1 1163.7 766.8 1164 760C1164.3 753.2 1162 743 1162 735C1162 727 1163.5 711.3 1164 700C1164.5 688.7 1165.6 663.3 1165.5 650C1165.4 636.7 1164 614 1163.5 600C1163 586 1162.2 556.3 1161.5 545C1160.8 533.7 1159.3 524.1 1158 515C1156.7 505.9 1153.6 486.2 1152 477C1150.4 467.8 1147.7 452.8 1146 446C1144.3 439.2 1141.4 430.9 1139 426C1136.6 421.1 1131.6 412.2 1128 409.5C1124.4 406.8 1116.3 405.5 1112 405.5Z"/></clipPath>
<clipPath id="cShadow"><path d="M1160 684L1175 692.5L1200 698.75L1225 702.5L1240 708L1259.5 712.8L1261.5 730L1260.5 750L1259 770L1256 790L1250 810L1240 830L1150 860L1160 760Z"/></clipPath>
<linearGradient id="gEl" gradientUnits="userSpaceOnUse" x1="0" y1="606" x2="0" y2="945"><stop offset="0" stop-color="#ea220b"/><stop offset="0.55" stop-color="#e11e08"/><stop offset="0.75" stop-color="#c81b08"/><stop offset="1" stop-color="#9c1608"/></linearGradient>
<linearGradient id="gElS" gradientUnits="userSpaceOnUse" x1="0" y1="606" x2="0" y2="945"><stop offset="0" stop-color="#a01b0c"/><stop offset="0.35" stop-color="#8a190c"/><stop offset="1" stop-color="#7c140a"/></linearGradient>
<linearGradient id="gMi" gradientUnits="userSpaceOnUse" x1="510" y1="738" x2="505" y2="779"><stop offset="0" stop-color="#e23a24"/><stop offset="0.12" stop-color="#f34c35"/><stop offset="0.5" stop-color="#ee2f17"/><stop offset="0.85" stop-color="#d9230d"/><stop offset="1" stop-color="#c81e0a"/></linearGradient>
<linearGradient id="gMiU" gradientUnits="userSpaceOnUse" x1="432" y1="0" x2="597" y2="0"><stop offset="0" stop-color="#c01d0a"/><stop offset="0.25" stop-color="#a8190a"/><stop offset="0.42" stop-color="#7d140a"/><stop offset="1" stop-color="#7a130a"/></linearGradient>
<linearGradient id="gBu" gradientUnits="userSpaceOnUse" x1="800" y1="728" x2="792" y2="838"><stop offset="0" stop-color="#f4543f"/><stop offset="0.12" stop-color="#ee4631"/><stop offset="0.3" stop-color="#d83822"/><stop offset="0.4" stop-color="#b82c1c"/><stop offset="0.55" stop-color="#a81e0e"/><stop offset="0.8" stop-color="#ad1b09"/><stop offset="1" stop-color="#bc1d09"/></linearGradient>
<linearGradient id="gBuF" gradientUnits="userSpaceOnUse" x1="0" y1="738" x2="0" y2="834"><stop offset="0" stop-color="#f0412b"/><stop offset="0.5" stop-color="#e2301a"/><stop offset="1" stop-color="#c4200b"/></linearGradient>
</defs>
<g id="wlokno">
<g clip-path="url(#cSil)">
<path d="M1100 398.5C1107 398.5 1130.8 398.1 1142 398.5C1153.2 398.9 1158.7 399.9 1167 401C1175.3 402.1 1181.5 403.2 1192 405C1202.5 406.8 1218.3 409.7 1230 412C1241.7 414.3 1250.3 416 1262 419C1273.7 422 1239.9 409.8 1300 430C1360.1 450.2 1568.8 522.1 1622.5 540.5L1622.5 1019C1612.8 1013.5 1581.1 995.2 1564 986C1546.9 976.8 1534.7 971.3 1520 964C1505.3 956.7 1490.7 948.2 1476 942C1461.3 935.8 1446.7 931 1432 927C1417.3 923 1403.3 920.5 1388 918C1372.7 915.5 1349.7 913.7 1340 912C1330.3 910.3 1332.3 909.7 1330 908C1327.7 906.3 1333.7 903.7 1326 902C1318.3 900.3 1291.3 899.7 1284 898C1276.7 896.3 1287.7 893.3 1282 892C1276.3 890.7 1267.8 891.2 1250 890C1232.2 888.8 1195.8 887.5 1175 885C1154.2 882.5 1139.7 880 1125 875C1110.3 870 1097.5 862.5 1087 855C1076.5 847.5 1068.2 839.2 1062 830C1055.8 820.8 1054.2 813.3 1050 800C1045.8 786.7 1039.7 765.8 1037 750C1034.3 734.2 1033.9 720.8 1034 705C1034.1 689.2 1035.7 675.8 1037.5 655C1039.3 634.2 1043.3 605.4 1045 580C1046.7 554.6 1046.5 519.6 1047.5 502.5C1048.5 485.4 1049.8 486.2 1051 477.5C1052.2 468.8 1053.7 457.8 1055 450C1056.3 442.2 1056.9 436.8 1058.8 431C1060.6 425.2 1062.5 419.5 1066 415C1069.5 410.5 1074.3 406.5 1080 403.8C1085.7 401 1096.7 399.4 1100 398.5Z" fill="url(#gBody)"/>
<g clip-path="url(#cShadow)"><ellipse cx="1234" cy="704" rx="62" ry="40" transform="rotate(14 1234 704)" fill="url(#gShadow)"/></g>
<path d="M1339 723.5C1338.6 727 1339.7 742.5 1340 750C1340.3 757.5 1341 773.3 1341 780C1341 786.7 1340.4 796 1340 800C1339.6 804 1338.7 806.7 1338 810C1337.3 813.3 1335.7 821 1335 825C1334.3 829 1333.7 835.3 1333 840C1332.3 844.7 1331.5 854.7 1330 860C1328.5 865.3 1323.9 875.1 1322 880C1320.1 884.9 1315.5 894.2 1316 897C1316.5 899.8 1324.1 901.9 1326 901C1327.9 900.1 1328.4 894.1 1330 890C1331.6 885.9 1336.1 875.3 1338 870C1339.9 864.7 1343.1 854 1344 850C1344.9 846 1344.2 842.7 1344.5 840C1344.8 837.3 1345.3 832.3 1346 830C1346.7 827.7 1348.9 825 1350 823C1351.1 821 1353.1 817.4 1354 815C1354.9 812.6 1356.1 808.3 1356.5 805C1356.9 801.7 1357.3 796 1357.2 790C1357.1 784 1357 766.4 1356 760C1355 753.6 1351.7 746.8 1350 742C1348.3 737.2 1344.5 726.5 1343 724C1341.5 721.5 1339.4 720 1339 723.5Z" fill="#a91908"/>
<path d="M1289.5 721.5C1285.4 726.6 1289.4 742.2 1289.2 750C1289 757.8 1288.5 773.3 1288.2 780C1287.9 786.7 1287.4 794.7 1287 800C1286.6 805.3 1285.7 814.7 1285 820C1284.3 825.3 1282.8 834.7 1282 840C1281.2 845.3 1280.3 855.3 1279 860C1277.7 864.7 1273.7 871.1 1272 875C1270.3 878.9 1262.8 886.7 1266 889C1269.2 891.3 1291.5 893.9 1296 892C1300.5 890.1 1298.7 879.3 1300 875C1301.3 870.7 1304.4 863.3 1305.5 860C1306.6 856.7 1307.2 854 1308 850C1308.8 846 1310.6 835.3 1311.5 830C1312.4 824.7 1313.7 815.3 1314.5 810C1315.3 804.7 1316.9 795.3 1317.5 790C1318.1 784.7 1318.7 776.7 1319 770C1319.3 763.3 1319.9 747.7 1320 740C1320.1 732.3 1324.1 714.5 1320 712C1315.9 709.5 1293.6 716.4 1289.5 721.5Z" fill="url(#gCol)"/>
<g style="mix-blend-mode:lighten"><rect x="1432" y="380" width="192" height="660" fill="url(#gLighten)" mask="url(#mLighten)"/></g>
<rect x="1432" y="380" width="192" height="660" fill="url(#gFade)"/>
<g fill="url(#gDark)"><path d="M1172.5 431.8C1172.1 431.3 1183.3 426.8 1190 425C1196.7 423.2 1205 421.3 1212.5 421.2C1220 421.2 1228.8 423 1235 424.5C1241.2 426 1250 429.4 1250 430C1250 430.6 1241.2 428.8 1235 428C1228.8 427.2 1219.6 425.3 1212.5 425.2C1205.4 425.2 1199.2 426.7 1192.5 427.8C1185.8 428.8 1172.9 432.2 1172.5 431.8Z"/><path d="M1157.2 416C1157.5 416.4 1152.1 423 1151.5 426C1150.9 429 1152.3 435.8 1153 438.7C1153.7 441.6 1155.1 445.6 1156.4 447.5C1157.7 449.4 1159.4 451.8 1162.5 452.7C1165.6 453.6 1175 454.4 1180 454.5C1185 454.6 1190.7 452.7 1200 453.8C1209.3 454.8 1238.3 459.7 1250 462.5C1261.7 465.3 1279.2 471.9 1287.5 475C1295.8 478.1 1314.2 485.5 1312.5 486C1310.8 486.5 1285 480.8 1275 478.8C1265 476.8 1247.5 472.5 1237.5 471C1227.5 469.5 1207.7 467.8 1200 467.5C1192.3 467.2 1185 469 1180 469C1175 469 1166 468.1 1162.5 467.6C1159 467.1 1155.7 466.7 1154 465C1152.3 463.3 1150.9 457.8 1150 455C1149.1 452.2 1148.3 447.5 1147.6 444C1146.9 440.5 1144.3 431.8 1144.5 429C1144.7 426.2 1147.3 424.7 1149 423C1150.7 421.3 1156.9 415.6 1157.2 416Z"/><path d="M1158.5 488C1161.3 485.8 1174.1 491.8 1180 493.5C1185.9 495.2 1195.8 498.8 1202.5 501C1209.2 503.2 1223.7 508.3 1230 510C1236.3 511.7 1240.7 510.9 1250 514C1259.3 517.1 1287.5 527.9 1300 533C1312.5 538.1 1334.3 547.6 1344 552.5C1353.7 557.4 1364.7 566.5 1372.6 570C1380.5 573.5 1392.5 575.2 1403.4 578.4C1414.3 581.6 1441.4 590.6 1454 593.8C1466.6 597 1483.3 600.7 1498 602.6C1512.7 604.5 1547.2 606.7 1564 608C1580.8 609.3 1616 609.1 1624 612C1632 614.9 1632 628.6 1624 630C1616 631.4 1580.8 624.6 1564 622.4C1547.2 620.2 1512.7 615.7 1498 613.6C1483.3 611.5 1465.7 608.5 1454 607C1442.3 605.5 1419.4 604.1 1410 602.6C1400.6 601.1 1389.5 598.6 1383.6 596C1377.7 593.4 1371.3 586.9 1366 582.8C1360.7 578.7 1352.8 570.4 1344 565.2C1335.2 560 1312.5 549.4 1300 544C1287.5 538.6 1259.3 528.5 1250 525C1240.7 521.5 1236.3 519.3 1230 517.5C1223.7 515.7 1209.2 512.7 1202.5 511.5C1195.8 510.3 1184.4 508.7 1180 508.5C1175.6 508.3 1171.4 508.7 1169.5 510C1167.6 511.3 1166.6 515.6 1166 518C1165.4 520.4 1162.1 526.4 1165 528C1167.9 529.6 1187.4 529.6 1187.5 530.3C1187.6 531 1169.4 532 1166 533C1162.6 534 1162.7 539.1 1162 538C1161.3 536.9 1160.9 528.7 1160.5 525C1160.1 521.3 1159.3 514.9 1159 510C1158.7 505.1 1155.7 490.2 1158.5 488Z"/><path d="M1372.6 571.8C1374.9 570.6 1391.4 572.9 1399 572.3C1406.6 571.6 1417.6 568.6 1423.2 567.4C1428.8 566.3 1432.7 564.6 1436.4 564.5C1440.1 564.5 1445.4 565.1 1447.8 567C1450.3 568.8 1453.1 576.1 1452.7 576.9C1452.3 577.6 1448.3 572.8 1445.2 572C1442.1 571.3 1436.6 571.3 1432 572C1427.4 572.7 1418.7 575.4 1414.4 576.7C1410.1 577.9 1408 580 1403.4 580.6C1398.8 581.2 1388.2 581.9 1383.6 580.6C1379 579.3 1370.3 573.1 1372.6 571.8Z"/><path d="M1236 560.8C1240.4 560.7 1253.6 560.1 1262.1 559.7C1270.6 559.3 1278.7 558.6 1287 558.5C1295.3 558.4 1304.3 558.7 1312 559C1319.6 559.3 1326.2 559.3 1332.8 560.3C1339.3 561.3 1344.6 562.3 1351.2 564.9C1357.8 567.4 1368.4 575.1 1372.4 575.7C1376.5 576.2 1378.9 570.9 1375.6 568.3C1372.3 565.7 1359.8 562.1 1352.8 560.1C1345.7 558.2 1340 557.4 1333.2 556.7C1326.4 556 1319.8 556.2 1312 556C1304.3 555.8 1295.3 555.3 1287 555.5C1278.6 555.7 1270.4 556.5 1261.9 557.3C1253.4 558.1 1240.3 559.6 1236 560.2C1231.7 560.8 1231.7 560.9 1236 560.8Z"/><path d="M1163.8 563.8C1165.1 562.2 1172.2 562 1175 562C1177.8 562 1185.3 562.8 1187.5 563.8C1189.7 564.7 1192.3 568.7 1193.8 570C1195.2 571.3 1196.4 573.3 1200 574.5C1203.6 575.7 1217.7 578.8 1225 580C1232.3 581.2 1253.8 583.7 1262.5 585C1271.2 586.3 1291.5 589.9 1300 591.2C1308.5 592.6 1330.2 595.8 1335 597C1339.8 598.2 1341.5 600.3 1341.5 601.2C1341.5 602.2 1339.8 605.2 1335 605.5C1330.2 605.8 1308.5 604.4 1300 604C1291.5 603.6 1271.2 603 1262.5 602.5C1253.8 602 1232.3 600.7 1225 600C1217.7 599.3 1204.6 597.1 1200 596.2C1195.4 595.4 1187.5 594.4 1185.5 592.5C1183.5 590.6 1183.5 582.8 1183.2 580C1183 577.2 1184.7 569.8 1183.8 568.5C1182.8 567.2 1176.6 567.2 1175.2 568.5C1173.9 569.8 1172.7 575.7 1172.5 580C1172.3 584.3 1173.3 599.2 1173.8 605C1174.2 610.8 1175.7 624.2 1176.2 630C1176.8 635.8 1178.3 650.5 1178.8 655C1179.2 659.5 1180.8 667.3 1180.5 668.8C1180.2 670.2 1177.2 670.6 1176.2 667.5C1175.3 664.4 1173.4 648.3 1172.5 642.5C1171.6 636.7 1169.6 623.3 1168.8 617.5C1167.9 611.7 1166.1 597.5 1165.5 592.5C1164.9 587.5 1164 578.4 1163.8 575C1163.5 571.6 1162.4 565.3 1163.8 563.8Z"/><path d="M1356.1 500.3C1357.2 499.8 1366 498.4 1370.4 498.8C1374.8 499.2 1379.9 501 1382.5 502.7C1385.1 504.5 1386.1 508.3 1385.8 509.3C1385.6 510.4 1383.2 509.9 1381 509.1C1378.8 508.3 1375.5 505.9 1372.6 504.7C1369.8 503.5 1366.6 502.6 1363.8 501.9C1361.1 501.1 1355 500.8 1356.1 500.3Z"/><path d="M1414.4 523.4C1416.6 523.3 1425.4 525.6 1432 526.5C1438.6 527.4 1446.7 528.2 1454 528.7C1461.4 529.1 1471.3 528.7 1476 529.1C1480.7 529.5 1481.1 530 1482.2 531.1C1483.3 532.2 1483.6 535.1 1482.6 535.7C1481.6 536.3 1480.8 535 1476 534.6C1471.3 534.3 1461.4 534.1 1454 533.5C1446.7 533 1437.9 532.4 1432 531.3C1426.1 530.2 1421.7 528.2 1418.8 526.9C1415.9 525.6 1412.2 523.5 1414.4 523.4Z"/><path d="M1414.4 638.9C1415.1 638.3 1426.1 639.5 1432 640.9C1437.9 642.3 1445.2 644.9 1449.6 647.3C1454 649.6 1456.7 652.5 1458.4 655C1460.1 657.5 1460.8 661.8 1459.7 662.5C1458.6 663.1 1455 660.8 1451.8 658.9C1448.7 657.1 1444.8 653.8 1440.8 651.5C1436.8 649.1 1432 646.7 1427.6 644.6C1423.2 642.5 1413.7 639.5 1414.4 638.9Z"/><path d="M1525.5 655.4C1526.6 653 1531 651.5 1533.2 651.9C1535.5 652.3 1537.5 654.1 1538.9 657.6C1540.4 661.1 1542 668.6 1541.8 673C1541.6 677.4 1540.1 680.7 1537.6 684C1535.1 687.3 1531.4 690.9 1526.6 692.8C1521.9 694.7 1514.5 696 1509 695.5C1503.5 695 1496.6 691.7 1493.6 689.8C1490.7 687.8 1489.6 684.9 1491.4 684C1493.3 683.1 1500.2 685.5 1504.6 684.5C1509 683.4 1514.2 680.9 1517.8 677.9C1521.5 674.9 1525.3 670.2 1526.6 666.4C1527.9 662.7 1524.4 657.8 1525.5 655.4Z"/><path d="M1437.5 750.2C1439 750.1 1442 754.6 1443 757.2C1444 759.9 1444.5 763.4 1443.5 766C1442.4 768.6 1439.8 771.3 1436.4 772.8C1433 774.3 1428.3 775.2 1423.2 775C1418.1 774.8 1406.3 772.2 1405.6 771.5C1404.9 770.8 1415.1 771.5 1418.8 770.6C1422.5 769.8 1425 768.4 1427.6 766.2C1430.2 764.1 1432.6 760.3 1434.2 757.6C1435.9 755 1436 750.2 1437.5 750.2Z"/><path d="M1551.9 571.8C1553 570.4 1553.9 567.6 1559.6 567.6C1565.3 567.6 1575.8 569.9 1586 571.8C1596.3 573.7 1615.4 576.4 1621.2 578.9C1627.1 581.3 1627.1 585.8 1621.2 586.3C1615.4 586.9 1595.6 583 1586 581.9C1576.5 580.8 1569.5 580.7 1564 579.7C1558.5 578.8 1555 577.8 1553 576.4C1551 575.1 1550.8 573.3 1551.9 571.8Z"/><path d="M1550.8 723.6C1550.8 723 1579 724.3 1586 724.5C1593.1 724.7 1617.7 725 1621.2 725.8C1624.8 726.7 1624.8 732.4 1621.2 732.9C1617.7 733.3 1593.1 731.4 1586 730.5C1579 729.5 1550.8 724.2 1550.8 723.6Z"/><path d="M1164 681C1165.2 680.9 1170.8 683.4 1175 684C1179.2 684.6 1194.2 685.4 1200 686C1205.8 686.6 1219.2 688.4 1225 689C1230.8 689.6 1244.5 691.1 1250 691.5C1255.5 691.9 1268.1 693.4 1272.5 692.5C1276.9 691.6 1284.9 686 1287.5 684C1290.1 682 1294 675.6 1295 675C1296 674.4 1297.3 677.2 1296.5 679C1295.7 680.8 1290.2 688.1 1288 690C1285.8 691.9 1276.6 694.5 1278 695.5C1279.4 696.5 1294.2 697.8 1300 698.8C1305.8 699.7 1323.3 702.5 1328 703.5C1332.7 704.5 1337.7 706.7 1340 707.5C1342.3 708.3 1342.2 709.2 1348 710C1353.8 710.8 1389.2 713.7 1390 714.3C1390.8 714.9 1360.1 715.1 1355 715.4C1349.9 715.7 1348.2 716 1346 716.5C1343.8 717 1337.9 718.7 1336 719.5C1334.1 720.3 1332.3 723.6 1330 723C1327.7 722.4 1318.8 714.9 1316 714C1313.2 713.1 1309 714 1306 715C1303 716 1292.8 721.5 1290 723C1287.2 724.5 1284.6 728.8 1282 728C1279.4 727.2 1270.6 717.8 1268 716C1265.4 714.2 1261.6 713.4 1259.5 712.8C1257.4 712.2 1252.3 711.6 1250 711C1247.7 710.4 1242.9 709 1240 708C1237.1 707 1229.7 703.6 1225 702.5C1220.3 701.4 1205.8 699.9 1200 698.8C1194.2 697.6 1179.1 694.1 1175 692.5C1170.9 690.9 1166.3 686.3 1165 685C1163.7 683.7 1162.8 681.1 1164 681Z"/><path d="M1266.8 714C1264.8 714.4 1267.5 725.2 1267.5 730C1267.5 734.8 1267.2 744.7 1267 750C1266.8 755.3 1266.4 764.7 1266 770C1265.6 775.3 1264.8 784.7 1264 790C1263.2 795.3 1261.5 804.7 1260 810C1258.5 815.3 1254.7 825.3 1253 830C1251.3 834.7 1248.7 841.5 1247 845C1245.3 848.5 1241.3 854.7 1240 856C1238.7 857.3 1240.3 853.1 1237.5 855C1234.7 856.9 1223.3 866.4 1218.8 870C1214.2 873.6 1205 879.9 1203 882C1201 884.1 1202.7 885.2 1204 886C1205.3 886.8 1208.9 889.3 1212.5 888C1216.1 886.7 1226.9 879.7 1231 876C1235.1 872.3 1240.5 863.5 1243 860C1245.5 856.5 1247.7 852.7 1250 850C1252.3 847.3 1257.3 842.9 1260 840C1262.7 837.1 1268.3 831.3 1270 828C1271.7 824.7 1272 817.9 1272.5 815C1273 812.1 1273.3 808 1274 806C1274.7 804 1277.2 801.9 1278 800C1278.8 798.1 1280.1 794.9 1280 792C1279.9 789.1 1277.5 782.9 1277.5 778C1277.5 773.1 1279.5 760.1 1280 755C1280.5 749.9 1280.7 743.7 1281 740C1281.3 736.3 1284.3 730.5 1282.4 727C1280.5 723.5 1268.8 713.6 1266.8 714Z"/><path d="M1316 712.6C1314.1 714.9 1316.1 732.3 1316 740C1315.9 747.7 1315.8 763.3 1315.5 770C1315.2 776.7 1314.6 784.7 1314 790C1313.4 795.3 1311.8 804.7 1311 810C1310.2 815.3 1308.9 824.7 1308 830C1307.1 835.3 1304.8 846 1304 850C1303.2 854 1302.9 856.7 1302 860C1301.1 863.3 1298.1 870.7 1297 875C1295.9 879.3 1292.8 889.5 1294 892C1295.2 894.5 1303.9 896.1 1306 894C1308.1 891.9 1308.9 880.5 1310 876C1311.1 871.5 1313.2 863.1 1314 860C1314.8 856.9 1315.2 855 1316 853C1316.8 851 1318.7 847.4 1320 845C1321.3 842.6 1324.7 837.7 1325.5 835C1326.3 832.3 1325.7 828.3 1326 825C1326.3 821.7 1327.3 814 1328 810C1328.7 806 1330.2 798.3 1331 795C1331.8 791.7 1333.5 787.7 1334 785C1334.5 782.3 1334.6 777.7 1334.5 775C1334.4 772.3 1333.6 768.3 1333 765C1332.4 761.7 1330.3 753.1 1330 750C1329.7 746.9 1330.6 744.7 1330.5 742C1330.4 739.3 1329.5 732.6 1329.5 730C1329.5 727.4 1332 724.9 1330.2 722.6C1328.4 720.3 1317.9 710.3 1316 712.6Z"/><path d="M1335 719C1334.2 720.3 1338.3 723.2 1340 726C1341.7 728.8 1346 736 1348 740C1350 744 1353.8 752.7 1355 756C1356.2 759.3 1356.7 760.5 1357 765C1357.3 769.5 1357.1 784.7 1357 790C1356.9 795.3 1356.9 801.7 1356.5 805C1356.1 808.3 1354.9 812.6 1354 815C1353.1 817.4 1351.1 821 1350 823C1348.9 825 1346.8 827.7 1346 830C1345.2 832.3 1344.5 836.7 1344 840C1343.5 843.3 1343.1 850.3 1342 855C1340.9 859.7 1337.9 869.9 1336 875C1334.1 880.1 1329.5 889.5 1328 893C1326.5 896.5 1324.3 898.7 1325 901C1325.7 903.3 1331.5 911 1333 910C1334.5 909 1334.3 898.7 1336 893.6C1337.7 888.5 1343.5 878.7 1346 872C1348.5 865.3 1353.7 848.3 1355 843C1356.3 837.7 1355.6 834.7 1356 832C1356.4 829.3 1356.7 825.9 1358 823C1359.3 820.1 1364.2 812.8 1365.5 810C1366.8 807.2 1367.4 804.7 1367.5 802C1367.6 799.3 1366.6 794.3 1366.5 790C1366.4 785.7 1366.9 774.5 1367 770C1367.1 765.5 1368 758.9 1367.5 756C1367 753.1 1364.7 751.1 1363 748C1361.3 744.9 1357.3 737.3 1355 733C1352.7 728.7 1348.7 717.9 1346 716C1343.3 714.1 1335.8 717.7 1335 719Z"/><path d="M1380 811C1382.6 809.3 1395.6 817.3 1399 819C1402.4 820.7 1410.7 825.9 1414 827.6C1417.3 829.3 1425.8 835.4 1432 836.4C1438.2 837.4 1467.2 837.3 1476 837.5C1484.8 837.7 1511.2 838.3 1520 838.6C1528.8 838.9 1553.6 840.3 1564 840.8C1574.4 841.3 1618 839.2 1624 843.5C1630 847.8 1630 880.5 1624 884C1618 887.5 1574.4 879.2 1564 878.2C1553.6 877.2 1528.8 874.2 1520 873.8C1511.2 873.4 1484.8 873.6 1476 873.8C1467.2 874 1440.8 875.1 1432 876C1423.2 876.9 1395.7 881 1388 882.6C1380.3 884.2 1357.4 894.3 1355 892.5C1352.6 890.7 1362 870.6 1363.8 865C1365.6 859.4 1371 841.8 1372.6 836.4C1374.2 831 1377.4 812.7 1380 811Z"/><path d="M1423 920C1423 918.7 1446.9 917 1454 916.7C1461.1 916.4 1467.2 917.1 1476 917.8C1484.8 918.5 1508.3 920.5 1520 922C1531.7 923.5 1550.1 927.2 1564 928.8C1577.9 930.4 1616 931.8 1624 934C1632 936.2 1632 944.2 1624 945C1616 945.8 1577.9 940.9 1564 939.8C1550.1 938.7 1530.3 937.7 1520 936.5C1509.7 935.3 1495.8 932.3 1487 931C1478.2 929.7 1462.5 928.1 1454 926.6C1445.5 925.1 1423 921.3 1423 920Z"/><path d="M1325 899C1326.2 899.3 1331.2 903.9 1334 905C1336.8 906.1 1338.8 906.4 1346 907.5C1353.2 908.6 1376.5 911.5 1388 913.5C1399.5 915.5 1420.3 919.2 1432 922.5C1443.7 925.8 1464.3 932.9 1476 938C1487.7 943.1 1508.3 954.5 1520 960.5C1531.7 966.5 1550.1 975.8 1564 983C1577.9 990.2 1616 1009.7 1624 1014.5C1632 1019.3 1632 1022.7 1624 1019C1616 1015.3 1577.9 994.2 1564 987C1550.1 979.8 1531.7 970.9 1520 965C1508.3 959.1 1487.7 947.9 1476 943C1464.3 938.1 1443.7 931.2 1432 928C1420.3 924.8 1400.3 921 1388 919C1375.7 917 1347.7 914.3 1340 913C1332.3 911.7 1332 910.3 1330 909C1328 907.7 1325.7 904.3 1325 903C1324.3 901.7 1323.8 898.7 1325 899Z"/><path d="M1105 852C1105.7 850.9 1128.3 849.7 1135 848.8C1141.7 847.8 1149 846.3 1155 845C1161 843.7 1173.3 840.1 1180 838.8C1186.7 837.4 1198.2 835.7 1205 835C1211.8 834.3 1225.5 833.8 1231 833.8C1236.5 833.8 1244.5 833.8 1246 835C1247.5 836.2 1243.8 840.4 1242.5 842.5C1241.2 844.6 1238.3 849.5 1236 851C1233.7 852.5 1229.1 853.1 1225 853.8C1220.9 854.4 1211 855.1 1205 855.5C1199 855.9 1186.7 856.2 1180 856.5C1173.3 856.8 1161.7 857.4 1155 857.5C1148.3 857.6 1136.7 857.7 1130 857C1123.3 856.3 1104.3 853.1 1105 852Z"/><path d="M1113.7 860C1118.5 860.6 1131.4 861.2 1142.4 861.7C1153.5 862.3 1169.5 862.9 1180 863.2C1190.4 863.6 1198 863.7 1205 863.9C1211.9 864.1 1218.3 864.4 1221.9 864.4C1225.5 864.4 1225.6 864.4 1226.4 863.7C1227.2 863.1 1227.3 861 1226.6 860.3C1225.9 859.5 1225.7 859.5 1222.1 859.2C1218.5 858.9 1212.1 858.8 1205 858.7C1198 858.6 1190.5 858.8 1180 858.8C1169.6 858.7 1153.6 858.4 1142.6 858.3C1131.5 858.1 1118.6 857.7 1113.8 858C1109 858.3 1108.9 859.4 1113.7 860Z"/><path d="M1117.6 871.4C1120.7 871.4 1130.1 870.2 1136.3 869.8C1142.6 869.4 1148.8 868.9 1155 869C1161.2 869 1167.4 869.4 1173.6 869.9C1179.9 870.5 1186.1 871.7 1192.4 872.4C1198.6 873.2 1204.8 873.5 1211.1 874.3C1217.3 875.1 1226.6 877.3 1229.8 877.5C1233 877.7 1233.2 876.4 1230.2 875.5C1227.1 874.6 1217.7 872.8 1211.4 871.9C1205.2 871 1198.9 870.8 1192.6 870.1C1186.4 869.3 1180.1 868.1 1173.9 867.6C1167.6 867 1161.3 866.5 1155 866.5C1148.7 866.6 1142.4 867.1 1136.2 867.7C1129.9 868.2 1120.5 869.3 1117.4 869.9C1114.3 870.5 1114.4 871.4 1117.6 871.4Z"/><path d="M1130.1 878.9C1133.3 878.8 1142.6 877.3 1148.9 876.7C1155.1 876.1 1162.4 875.5 1167.6 875.2C1172.7 874.9 1175.7 874.4 1179.8 875.2C1183.9 876 1187.9 878.2 1192.1 879.9C1196.2 881.5 1202.4 884.4 1204.6 884.9C1206.8 885.5 1207.3 884.3 1205.4 883.1C1203.4 881.9 1197.1 879.3 1192.9 877.6C1188.8 875.9 1184.5 873.6 1180.2 872.8C1176 872 1172.7 872.5 1167.4 872.8C1162.2 873.1 1154.9 873.8 1148.6 874.5C1142.4 875.3 1133 876.7 1129.9 877.4C1126.8 878.1 1126.9 879 1130.1 878.9Z"/><path d="M1112 405.5C1107.7 405.5 1099.9 407.8 1096 409.5C1092.1 411.2 1085.5 415.2 1082.5 418C1079.5 420.8 1075.4 426.6 1073.5 430.5C1071.6 434.4 1069.1 442.4 1068 447C1066.9 451.6 1065.8 459.6 1065 465C1064.2 470.4 1062.8 481.5 1062 487.5C1061.2 493.5 1059.7 504 1059 510C1058.3 516 1057.5 526.5 1057 532.5C1056.5 538.5 1055.9 549 1055.5 555C1055.1 561 1054.4 571.5 1054 577.5C1053.6 583.5 1052.9 593 1052.5 600C1052.1 607 1051.3 623.3 1051 630C1050.7 636.7 1050.3 644 1050 650C1049.7 656 1049 668.3 1048.5 675C1048 681.7 1046.8 693.3 1046.5 700C1046.2 706.7 1045.9 718.3 1046 725C1046.1 731.7 1046.6 743.7 1047 750C1047.4 756.3 1048.1 765.7 1049 772C1049.9 778.3 1052.4 791.7 1054 797C1055.6 802.3 1058.6 807.9 1061 812C1063.4 816.1 1068.1 823.9 1072 828C1075.9 832.1 1084.9 840.2 1090 843C1095.1 845.8 1104.3 848.1 1110 849C1115.7 849.9 1128.9 850.8 1133 850C1137.1 849.2 1139.3 845.3 1141 843C1142.7 840.7 1144.5 837.1 1146 833C1147.5 828.9 1150.6 818.3 1152.5 812C1154.4 805.7 1158.5 792.9 1160 786C1161.5 779.1 1163.7 766.8 1164 760C1164.3 753.2 1162 743 1162 735C1162 727 1163.5 711.3 1164 700C1164.5 688.7 1165.6 663.3 1165.5 650C1165.4 636.7 1164 614 1163.5 600C1163 586 1162.2 556.3 1161.5 545C1160.8 533.7 1159.3 524.1 1158 515C1156.7 505.9 1153.6 486.2 1152 477C1150.4 467.8 1147.7 452.8 1146 446C1144.3 439.2 1141.4 430.9 1139 426C1136.6 421.1 1131.6 412.2 1128 409.5C1124.4 406.8 1116.3 405.5 1112 405.5Z"/></g>
<g clip-path="url(#cDark)"><rect x="1432" y="380" width="192" height="660" fill="url(#gFadeD)"/></g>
<g fill="url(#gBody)"><path d="M1110.3 412.5C1108.7 412.3 1104.5 413 1100.9 414.1C1097.2 415.3 1092 417.1 1088.4 419.2C1084.9 421.4 1081.6 424.1 1079.4 426.8C1077.1 429.5 1076.1 432.6 1074.9 435.7C1073.7 438.8 1072.9 442.1 1072.1 445.5C1071.4 448.8 1071 451 1070.4 455.9C1069.9 460.8 1069.3 467.6 1068.8 474.9C1068.4 482.3 1068 491.6 1067.7 500C1067.4 508.3 1067.1 516.7 1067 525C1066.9 533.3 1067.1 541.7 1067.2 550.1C1067.3 558.4 1067.7 566.7 1067.7 575C1067.7 583.4 1067.6 590.8 1067.2 599.9C1066.8 609 1065.8 621.5 1065.2 629.8C1064.6 638.1 1063.8 642.3 1063.4 649.8C1063 657.4 1062.9 666.6 1062.8 675C1062.6 683.3 1062.7 691.7 1062.8 700C1062.8 708.4 1062.7 716.8 1063.1 725.2C1063.5 733.6 1064.3 742.4 1065 750.4C1065.7 758.3 1066.1 765.8 1067.5 772.8C1068.8 779.8 1070.8 786.2 1073.2 792.4C1075.5 798.7 1078.3 805.1 1081.7 810.2C1085 815.3 1089.3 819.9 1093.5 823.2C1097.8 826.4 1102.5 828.7 1107.1 829.8C1111.6 830.9 1116.7 830.8 1121 829.6C1125.2 828.4 1129 825.9 1132.5 822.5C1135.9 819.1 1139.1 814.1 1141.6 809C1144.1 803.8 1146.1 797.8 1147.7 791.8C1149.3 785.7 1150.4 780.2 1151.1 772.8C1151.9 765.4 1152.3 755.9 1152.1 747.5C1151.9 739.1 1150.2 732 1149.8 722.4C1149.3 712.9 1149.4 702.1 1149.4 690C1149.4 677.9 1149.4 663.3 1149.5 650C1149.6 636.7 1150.1 616.7 1150 610C1149.9 603.3 1149.4 603.3 1149 610C1148.6 616.7 1148 636.7 1147.7 650C1147.4 663.3 1147.2 677.9 1147 690C1146.8 702.1 1146.1 713 1146.2 722.6C1146.4 732.1 1147.9 739.3 1147.9 747.5C1147.9 755.8 1147.3 765.1 1146.4 772.2C1145.4 779.3 1144.1 784.6 1142.3 790.2C1140.6 795.9 1138.4 801.5 1135.9 806C1133.4 810.6 1130.4 814.8 1127.5 817.5C1124.7 820.2 1122.1 821.6 1119 822.4C1115.9 823.2 1112.4 823.1 1108.9 822.2C1105.5 821.3 1101.9 819.6 1098.5 816.8C1095 814.1 1091.3 810.4 1088.3 805.8C1085.4 801.3 1083 795.3 1080.8 789.6C1078.7 783.8 1076.8 777.9 1075.5 771.2C1074.2 764.6 1073.8 757.4 1073 749.6C1072.2 741.9 1071.4 733.1 1070.9 724.8C1070.4 716.5 1070.4 708.3 1070.2 700C1070.1 691.7 1070.2 683.3 1070.2 675C1070.3 666.7 1070.3 657.6 1070.6 650.2C1070.9 642.7 1071.4 638.5 1071.8 630.2C1072.2 621.9 1072.7 609.3 1072.8 600.1C1072.9 590.9 1072.6 583.3 1072.3 575C1072 566.6 1071.2 558.3 1070.8 549.9C1070.4 541.6 1070.1 533.3 1070 525C1069.9 516.7 1070.1 508.4 1070.3 500C1070.5 491.7 1070.8 482.4 1071.2 475.1C1071.6 467.7 1072.1 461 1072.6 456.1C1073.1 451.3 1073.6 449.2 1074.3 445.9C1075 442.7 1075.8 439.5 1076.9 436.5C1078.1 433.5 1078.9 430.8 1081 428.2C1083.2 425.6 1086.1 423.1 1089.6 421.2C1093 419.2 1098 417.4 1101.5 416.5C1105.1 415.5 1109.2 415.9 1110.7 415.3C1112.2 414.6 1111.9 412.7 1110.3 412.5Z"/><path d="M1096 449C1095.1 451.4 1091.2 467.1 1090 472.5C1088.8 477.9 1086.4 489.5 1085.5 495C1084.6 500.5 1082.7 514.6 1082 520C1081.3 525.4 1080 535.8 1079.7 541C1079.4 546.2 1079.2 559.3 1079.2 565C1079.2 570.7 1079.4 584.2 1079.3 590C1079.2 595.8 1078.3 608.9 1078 615C1077.7 621.1 1077.2 635 1077 642C1076.8 649 1076.5 667.1 1076.4 675C1076.3 682.9 1076.3 701.6 1076.4 710C1076.5 718.4 1077 740 1077.5 747C1078 754 1079.7 764.9 1081 770C1082.3 775.1 1086.3 786.9 1088.5 791C1090.7 795.1 1098.3 804.5 1100 805C1101.7 805.5 1103.6 797.7 1103 795C1102.4 792.3 1096.7 785.4 1095 782C1093.3 778.6 1089.7 770.1 1088.5 766C1087.3 761.9 1085.5 753.5 1085 747C1084.5 740.5 1084.1 718.4 1084 710C1083.9 701.6 1084 681.3 1084.5 675C1085 668.7 1086.2 658.2 1088 656C1089.8 653.8 1097.3 655.3 1100 656C1102.7 656.7 1110.1 663.6 1111 662C1111.9 660.4 1108.6 647.5 1108 642C1107.4 636.5 1105.8 621.1 1106 615C1106.2 608.9 1109.4 596.4 1109.5 590C1109.6 583.6 1107.8 566.4 1107 560C1106.2 553.6 1103.8 540 1103 535C1102.2 530 1100.9 521.7 1100.5 517C1100.1 512.3 1099.7 500.2 1099.5 495C1099.3 489.8 1098.7 477 1098.5 472C1098.3 467 1097.8 454.7 1097.5 452C1097.2 449.3 1096.9 446.6 1096 449Z"/><path d="M1113.5 413C1113.3 414 1115.5 418.2 1115.5 420C1115.5 421.8 1113.6 425.7 1113.5 428C1113.4 430.3 1114.2 436.9 1114.5 440C1114.8 443.1 1115.7 451.3 1116 455C1116.3 458.7 1117.2 467.3 1117.5 472C1117.8 476.7 1118.3 490 1118.5 495C1118.7 500 1119 511.3 1119.5 515C1120 518.7 1121.7 527.4 1122.5 527C1123.3 526.6 1124.7 515.7 1126 512C1127.3 508.3 1131.9 495.7 1133.5 495.5C1135.1 495.3 1138.8 506 1140 510C1141.2 514 1143.2 524.2 1144 530C1144.8 535.8 1146.5 553 1147 560C1147.5 567 1148.1 583 1148.3 590C1148.5 597 1148.7 614.2 1148.8 620C1148.9 625.8 1149.3 637.7 1149.4 640C1149.5 642.3 1149.8 643.5 1150 640C1150.2 636.5 1151.1 617 1151.5 610C1151.9 603 1153.1 587.6 1153.2 580C1153.3 572.4 1152.4 552.6 1152 545C1151.6 537.4 1150.5 522.9 1149.5 515C1148.5 507.1 1144.9 485.1 1143.5 477C1142.1 468.9 1139 451.8 1137.5 446C1136 440.2 1132.8 431.2 1131 427.5C1129.2 423.8 1124.1 416.3 1122.5 414.5C1120.9 412.7 1118 412 1117 411.8C1116 411.6 1113.7 412 1113.5 413Z"/><path d="M1133.4 507C1133 509.1 1133.5 512.9 1132 519.6C1130.5 526.2 1126.6 538 1124.4 547.1C1122.1 556.3 1119.6 566.9 1118.3 574.3C1117 581.8 1116.4 585.1 1116.5 592C1116.6 598.9 1117.5 608.2 1118.8 615.5C1120.1 622.8 1122.3 629 1124.1 635.7C1125.9 642.4 1127.8 650.2 1129.6 655.6C1131.3 661 1133.4 666.1 1134.4 668.1C1135.4 670.2 1135.6 670.2 1135.6 667.9C1135.6 665.6 1135.4 660 1134.4 654.4C1133.5 648.8 1131.4 640.9 1129.9 634.3C1128.4 627.6 1126.3 621.5 1125.2 614.5C1124.1 607.4 1123.4 598.5 1123.5 592C1123.6 585.5 1124.3 582.9 1125.7 575.7C1127 568.5 1129.6 558.1 1131.6 548.9C1133.7 539.7 1137.5 527.4 1138 520.4C1138.5 513.4 1135.4 509.2 1134.6 507C1133.8 504.7 1133.8 504.9 1133.4 507Z"/><path d="M1085.8 659C1087.4 657.8 1097.5 658.1 1100 658.2C1102.5 658.4 1110 659.1 1111.2 660C1112.5 660.9 1112.8 666 1112.8 667.5C1112.8 669 1112.3 673.3 1111.2 675C1110.2 676.7 1104.9 683.9 1101.9 684.5C1098.9 685.1 1083.1 682.2 1081.2 680.8C1079.4 679.3 1083.3 672.2 1083.8 670C1084.2 667.8 1084.1 660.2 1085.8 659Z"/><path d="M1079.5 750C1080 750.8 1081.5 758.1 1082.5 760C1083.5 761.9 1088.6 767.4 1090 768.8C1091.4 770.1 1093 773.4 1096.2 774C1099.5 774.6 1119.5 773.9 1122.5 774.5C1125.5 775.1 1125.7 778.7 1126 780C1126.3 781.3 1125.6 786.5 1125.2 787.5C1124.9 788.5 1125.8 789.2 1122.5 789.5C1119.2 789.8 1096.2 791.1 1092.5 790.2C1088.8 789.4 1086.3 783.3 1085 780.8C1083.7 778.2 1079.8 767.8 1079 765C1078.2 762.2 1077.5 754 1077.5 752.5C1077.5 751 1079 749.2 1079.5 750Z"/><path d="M1117.5 655C1117.6 659.2 1118.4 671 1119 680.1C1119.6 689.3 1121 700.1 1121.3 710C1121.5 720 1121 730.7 1120.5 739.9C1120 749 1118.7 760.7 1118.5 764.9C1118.3 769.1 1118.7 769.2 1119.5 765.1C1120.3 760.9 1122.6 749.3 1123.5 740.1C1124.4 730.9 1125 720 1124.7 710C1124.5 699.9 1123 689 1122 679.9C1121 670.7 1119.2 659.1 1118.5 655C1117.7 650.8 1117.4 650.9 1117.5 655Z"/></g>
<g fill="url(#gDark)"><path d="M1096 429.3C1095.8 427.2 1099.5 424.7 1102 422.2C1104.5 419.8 1108.7 415.2 1111 414.8C1113.3 414.2 1115.4 417.4 1115.8 419.2C1116.2 421.1 1114.7 424 1113.4 425.7C1112.1 427.4 1109.7 427.8 1108 429.3C1106.3 430.9 1105.5 435 1103.5 435C1101.5 435 1096.2 431.4 1096 429.3Z"/><path d="M1118.7 442.1C1118.5 444.3 1120.4 449.4 1121.3 454.8C1122.3 460.1 1123.6 468 1124.5 474.2C1125.4 480.4 1125.9 487.6 1126.5 492.1C1127.1 496.6 1127.7 499.6 1128.2 501.1C1128.8 502.6 1129.6 502.4 1129.8 500.9C1129.9 499.3 1129.5 496.4 1129.1 491.8C1128.7 487.3 1128.2 480.1 1127.5 473.8C1126.8 467.5 1125.6 459.6 1124.7 454.2C1123.8 448.8 1123.2 443.4 1122.2 441.4C1121.2 439.4 1118.8 439.9 1118.7 442.1Z"/><path d="M1128.5 462.3C1129.2 461.6 1130.1 458.5 1131.1 457.5C1132.1 456.5 1133.2 455.6 1134.4 456.2C1135.5 456.8 1136.9 458.5 1138 461C1139.1 463.5 1140.4 469.6 1141.2 471.2C1141.9 472.8 1142.7 472.7 1142.6 470.8C1142.5 468.9 1141.6 462.9 1140.4 460C1139.2 457.1 1137.4 454.1 1135.6 453.4C1133.7 452.7 1130.7 454.3 1129.3 455.7C1127.9 457.1 1127.2 460.6 1127.1 461.7C1127 462.8 1127.8 463 1128.5 462.3Z"/><path d="M1096.2 540.5C1095.8 540.8 1094.1 539.7 1093.5 543C1092.9 546.3 1092.3 558.7 1092 565C1091.7 571.3 1091.3 583.3 1091 590C1090.7 596.7 1090.4 608.1 1090 615C1089.6 621.9 1088.5 635.5 1088 642C1087.5 648.5 1083.3 661.1 1086 664C1088.7 666.9 1105.6 666.9 1108 664C1110.4 661.1 1104.9 648.5 1104 642C1103.1 635.5 1101.9 621.9 1101.5 615C1101.1 608.1 1101 596.7 1100.8 590C1100.6 583.3 1100.5 571.3 1100.3 565C1100.1 558.7 1099.5 546.3 1099 543C1098.5 539.7 1096.6 540.8 1096.2 540.5C1095.8 540.2 1096.6 540.2 1096.2 540.5Z"/></g>
<path d="M1100 398.5C1107 398.5 1130.8 398.1 1142 398.5C1153.2 398.9 1158.7 399.9 1167 401C1175.3 402.1 1181.5 403.2 1192 405C1202.5 406.8 1218.3 409.7 1230 412C1241.7 414.3 1250.3 416 1262 419C1273.7 422 1239.9 409.8 1300 430C1360.1 450.2 1568.8 522.1 1622.5 540.5L1622.5 1019C1612.8 1013.5 1581.1 995.2 1564 986C1546.9 976.8 1534.7 971.3 1520 964C1505.3 956.7 1490.7 948.2 1476 942C1461.3 935.8 1446.7 931 1432 927C1417.3 923 1403.3 920.5 1388 918C1372.7 915.5 1349.7 913.7 1340 912C1330.3 910.3 1332.3 909.7 1330 908C1327.7 906.3 1333.7 903.7 1326 902C1318.3 900.3 1291.3 899.7 1284 898C1276.7 896.3 1287.7 893.3 1282 892C1276.3 890.7 1267.8 891.2 1250 890C1232.2 888.8 1195.8 887.5 1175 885C1154.2 882.5 1139.7 880 1125 875C1110.3 870 1097.5 862.5 1087 855C1076.5 847.5 1068.2 839.2 1062 830C1055.8 820.8 1054.2 813.3 1050 800C1045.8 786.7 1039.7 765.8 1037 750C1034.3 734.2 1033.9 720.8 1034 705C1034.1 689.2 1035.7 675.8 1037.5 655C1039.3 634.2 1043.3 605.4 1045 580C1046.7 554.6 1046.5 519.6 1047.5 502.5C1048.5 485.4 1049.8 486.2 1051 477.5C1052.2 468.8 1053.7 457.8 1055 450C1056.3 442.2 1056.9 436.8 1058.8 431C1060.6 425.2 1062.5 419.5 1066 415C1069.5 410.5 1074.3 406.5 1080 403.8C1085.7 401 1096.7 399.4 1100 398.5Z M1100.3 402.3C1107.2 402.3 1130.8 401.7 1141.9 402.1C1152.9 402.5 1158.3 403.4 1166.5 404.5C1174.8 405.5 1180.9 406.6 1191.4 408.3C1201.9 410.1 1217.7 412.9 1229.4 415.2C1241 417.5 1249.6 419.2 1261.2 422.1C1272.8 425 1238.7 412.6 1299 432.8C1359.4 453.1 1569.3 525.1 1623.4 543.5L1623.4 1016C1613.7 1010.6 1582.4 992.5 1565.4 983.4C1548.4 974.2 1536.1 968.7 1521.3 961.3C1506.6 954 1491.9 945.4 1477.2 939.2C1462.4 933 1447.6 928.1 1432.8 924.1C1418 920.1 1403.9 917.5 1388.5 915C1373.1 912.5 1350 910.6 1340.5 909C1331.1 907.5 1334.1 907.2 1331.7 905.6C1329.4 903.9 1334.5 900.8 1326.6 899.1C1318.8 897.4 1291.9 897.1 1284.6 895.5C1277.2 893.9 1288.3 890.8 1282.6 889.5C1276.9 888.1 1268.1 888.6 1250.2 887.4C1232.3 886.2 1196 884.9 1175.3 882.4C1154.6 879.9 1140.3 877.4 1125.8 872.5C1111.4 867.6 1098.7 860.3 1088.4 853C1078.1 845.8 1069.9 837.7 1063.8 828.8C1057.7 819.8 1056.1 812.6 1051.9 799.4C1047.8 786.2 1041.6 765.4 1038.9 749.7C1036.2 734 1035.7 720.8 1035.8 705C1035.9 689.3 1037.5 676 1039.3 655.2C1041.1 634.3 1045.1 605.5 1046.8 580.1C1048.5 554.7 1048.5 519.7 1049.7 502.6C1050.9 485.6 1052.3 486.6 1053.8 477.9C1055.2 469.2 1057 458.2 1058.6 450.6C1060.1 443 1061.2 437.8 1063.1 432.4C1065 427 1066.8 422.2 1069.9 418.1C1073.1 414 1076.9 410.5 1082 407.9C1087.1 405.3 1097.3 403.2 1100.3 402.3Z" fill="url(#gDark)" fill-rule="evenodd"/>
<g clip-path="url(#cRing)"><rect x="1432" y="380" width="192" height="660" fill="url(#gFadeD)"/></g>
</g>
<rect x="1622.5" y="380" width="29.5" height="700" fill="#fff"/>
</g>
<g id="fibryla" stroke="url(#gElS)" stroke-linecap="round" stroke-linejoin="round" fill="none">
<path d="M218 670.5C217.8 672.1 217.8 677.2 216.5 680C215.2 682.8 211.9 685.2 210 687.5C208.1 689.8 205 691.8 205 694C205 696.2 207.9 698.4 210 700.5C212.1 702.6 216 704.5 217.5 706.5C219 708.5 219.2 710.4 219 712.5C218.8 714.6 217.3 716.8 216.5 719C215.7 721.2 214.4 724.4 214 725.5" stroke-width="4.6"/>
<path d="M165 806.5C165.8 807.5 167.9 810.7 170 812.5C172.1 814.3 175.8 815.6 177.5 817.5C179.2 819.4 180.6 821.7 180 824C179.4 826.3 176.1 829.2 174 831.5C171.9 833.8 168.8 835.5 167.5 837.5C166.2 839.5 165.7 841.8 166 843.5C166.3 845.2 168.9 847.2 169.5 848" stroke-width="4.6"/>
<path d="M192.5 607C195.3 606.4 200.6 609.1 202.5 611.2C204.4 613.4 205.2 618.2 205.5 621.2C205.8 624.2 204.7 628.2 204.5 631.2C204.3 634.2 202.8 638.4 204 641.2C205.2 644.1 210.4 647.5 212.5 650.5C214.6 653.5 216.9 658.2 218 661.2C219.1 664.2 220.7 669.9 219.5 670.5C218.3 671.1 213.3 666.7 210 665.5C206.7 664.3 200.8 664.1 197.5 662.5C194.2 660.9 190.3 657.8 188 655C185.7 652.2 183.1 647.7 182 643.8C180.9 639.8 180.7 633 181 628.8C181.3 624.5 182.3 618.8 184 615.5C185.7 612.2 189.7 607.6 192.5 607Z" fill="url(#gEl)" stroke-width="4.3"/>
<path d="M181.2 728C183.1 725.3 188.9 721.8 192.5 720C196.1 718.2 201.3 716.3 205 715.8C208.7 715.2 215.6 714.7 217 716.2C218.4 717.8 215.6 723.6 214.5 726.2C213.4 728.9 209.3 731.8 210 733.8C210.7 735.7 219.3 737.7 219 739C218.7 740.3 210.8 741.5 208 742.5C205.2 743.5 201.8 743.6 200.5 745.5C199.2 747.4 199.1 751.3 199 755C198.9 758.7 199.9 765.4 199.8 770C199.6 774.6 199.6 782.1 198 785.5C196.4 788.9 192.1 790.5 189 792.5C185.9 794.5 180.7 797.1 177.5 799C174.3 800.9 169.4 803.8 167.5 805C165.6 806.2 164.5 808.4 164.5 807C164.5 805.6 166.2 799.5 167.5 795.5C168.8 791.5 172.2 784.6 173.5 780C174.8 775.4 175.9 769.1 176.5 765C177.1 760.9 177.2 756.5 177.8 752.5C178.3 748.5 179.5 741.7 180 738C180.5 734.3 179.4 730.7 181.2 728Z" fill="url(#gEl)" stroke-width="4.3"/>
<path d="M168.2 847C169 844.5 176.7 847.7 180 848.5C183.3 849.3 187.2 850.9 190 852.5C192.8 854.1 197.3 856.8 199 859C200.7 861.2 201.1 862.5 201.5 867.5C201.9 872.5 201.1 886.5 201.5 892.5C201.9 898.5 202.7 903.5 204 907.5C205.3 911.5 208 916.1 210 919C212 921.9 216.2 924.1 217.5 926.5C218.8 928.9 219.4 934 219 935C218.6 936 217.1 933.5 215 933.5C212.9 933.5 208.4 935.5 205 935C201.6 934.5 196.2 931.9 192.5 930C188.8 928.1 182.7 924.6 180 922.5C177.3 920.4 175 918.9 174.2 916.2C173.5 913.6 174.7 910.4 175 905C175.3 899.6 176.5 886 176.5 880C176.5 874 176.2 870 175 865C173.8 860 167.5 849.5 168.2 847Z" fill="url(#gEl)" stroke-width="4.3"/>
<path d="M204 639L225 631.5" stroke-width="4.4"/>
<path d="M204 647L214.5 657" stroke-width="5.4"/>
<path d="M180.8 711.2L182.5 727.5" stroke-width="4.4"/>
<path d="M162.5 763.2L175.5 762" stroke-width="4.4"/>
<path d="M208 742.5L218.5 739.2" stroke-width="4.4"/>
<path d="M199 857.5L213.8 848" stroke-width="4.4"/>
<path d="M162.5 870.8L175.5 871.2" stroke-width="4.4"/>
<path d="M202 893L212.5 892.5" stroke-width="4.4"/>
<path d="M219 935L216.5 940L211.5 943.8" stroke-width="4.4"/>
</g>
<circle cx="181.25" cy="921.5" r="2.2" fill="#000"/>
<g id="mikrofibryl" stroke-linejoin="round" stroke-linecap="round">
<path d="M403.3 759.9C403.4 759.2 403.5 756.9 404.3 756.4C405.1 756 409.2 755.7 411 755.6C412.7 755.6 420.6 754.7 421.6 755.9C422.7 757.1 422.7 766.2 421.6 767.4C420.6 768.5 412.7 767.4 411 767.4C409.2 767.3 405.1 767.2 404.3 766.8C403.5 766.4 402.8 764.3 402.7 763.6C402.6 762.9 403.1 760.6 403.3 759.9Z" fill="#dd220e" stroke="#b51b0a" stroke-width="2"/>
<path d="M421.6 745C422.3 742.7 423.5 740.8 424.6 739.9C425.7 739 428.7 735.9 429.9 738.3C431.1 740.8 433.6 752.8 433.6 758.3C433.6 763.8 431 777.2 429.9 779.9C428.8 782.5 426.2 779.7 425.1 778.3C424 776.8 422.1 771.8 421.4 769C420.7 766.1 419.7 760.2 419.8 757C419.8 753.8 421 747.3 421.6 745Z" fill="#cf200d" stroke="#b51b0a" stroke-width="2"/>
<path d="M429.9 738.3C434.6 736.8 452 737.6 461.6 737.6C471.1 737.7 490.9 738.4 501.5 739C512.2 739.5 532.6 740.8 541.5 741.6C550.4 742.5 562.4 744.6 568.1 745.6C573.8 746.7 580.9 748 584.1 749.6C587.3 751.3 590.5 755.5 592.1 758.3C593.7 761 595.5 766.7 596.1 770.3C596.7 773.9 597.4 783.1 596.9 785.2C596.4 787.3 595.9 786.7 592.1 786.3C588.3 785.8 574.9 782.9 568.1 781.9C561.4 780.8 549.5 779.3 541.5 778.5C533.5 777.7 517.1 776.2 508.2 775.9C499.3 775.6 482.9 776.1 474.9 776.4C466.9 776.7 454.3 777.8 448.3 778.3C442.3 778.7 432.8 781.1 429.9 779.9C427 778.6 427 773.1 426.4 769C425.9 764.8 425.4 753.1 425.9 749C426.4 744.9 425.1 739.8 429.9 738.3Z" fill="url(#gMi)" stroke="#a8190a" stroke-width="2.6"/>
<path d="M431 775.1C433.8 774 446.4 772.7 452.3 771.9C458.1 771.1 468.3 769.7 474.9 769.2C481.5 768.7 494.4 768.3 501.5 768.4C508.6 768.6 521.1 769.9 528.2 770.3C535.3 770.6 547.7 770.1 554.8 771.1C561.9 772.1 575.8 776.1 581.4 777.7C587.1 779.4 594.8 782.5 596.9 783.6C598.9 784.7 597.5 785.3 596.9 785.7C596.3 786.1 595.9 787 592.1 786.5C588.3 786 574.9 783.2 568.1 782.1C561.4 781.1 549.5 779.6 541.5 778.8C533.5 778 517.1 776.4 508.2 776.1C499.3 775.9 482.9 776.3 474.9 776.7C466.9 777 454.1 778.1 448.3 778.5C442.4 779 433.3 780.3 431 779.9C428.7 779.4 428.1 776.1 431 775.1Z" fill="url(#gMiU)"/>
<path d="M457.6 737.9C461.7 738 477 738.1 488.2 738.6C499.4 739.1 530.8 740.8 541.5 741.8C552.1 742.7 562.4 744.6 568.1 745.6C573.8 746.7 580.9 748 584.1 749.6C587.3 751.3 590.5 755.5 592.1 758.3C593.7 761 595.5 766.7 596.1 770.3C596.7 773.9 596.8 783.2 596.9 785.2" fill="none" stroke="#7d140a" stroke-width="3.4"/>
<path d="M429.1 745C428.9 747.2 427.9 754.1 428 758.3C428.2 762.5 429.6 768.3 429.9 770.3" fill="none" stroke="#e8452f" stroke-width="1.6"/>
</g>
<g id="wiazka" stroke-linejoin="round" stroke-linecap="round">
<path d="M728.6 726.3C736.5 724.9 756.7 727.2 769.9 727.6C783.1 728.1 809 729.1 823.2 729.6C837.3 730.2 862.9 730 871.1 731.6C879.3 733.3 879.2 737.8 881.8 741.6C884.4 745.5 887.9 753.4 889.8 759C891.6 764.5 894.3 775.6 895.1 781.6C895.9 787.6 895.9 796 895.8 801.6C895.6 807.2 894.6 817.1 893.8 821.5C892.9 826 891.2 831.4 889.8 833.5C888.4 835.7 893.1 836.3 883.8 836.9C874.4 837.4 839.1 837.6 823.2 837.8C807.2 838 783.3 838.2 769.9 838.3C756.5 838.4 735.3 839.8 727.3 838.6C719.3 837.4 715.9 833.8 712.6 829.5C709.4 825.3 705.6 814.9 704 808.2C702.4 801.5 701.2 788.7 701.3 781.6C701.4 774.5 702.9 763.8 704.6 757.6C706.4 751.5 710.6 742 714 737.6C717.3 733.3 720.8 727.7 728.6 726.3Z" fill="url(#gBu)" stroke="#8c150a" stroke-width="3.4"/>
<path d="M734 835.5C735.2 834.7 739.2 833.3 743.3 832.5C747.4 831.6 758.4 829.9 764.6 829.3C770.8 828.6 782.1 827.6 789.9 827.7C797.7 827.7 813.4 828.9 823.2 829.5C832.9 830.1 854.8 831.4 863.1 832.2C871.5 832.9 883 834.5 885.8 835.1C888.5 835.7 892.1 836.5 883.8 836.9C875.4 837.2 838.4 837.6 823.2 837.8C808 838 781.8 838.2 769.9 838.3C758 838.4 738.7 839 734 838.6C729.2 838.2 732.7 836.3 734 835.5Z" fill="#7d140a"/>
<ellipse cx="726.6" cy="782.3" rx="25.6" ry="56" fill="#8c150a" transform="rotate(2 726.6 782.3)"/>
<ellipse cx="724.2" cy="785.2" rx="18.6" ry="47.2" fill="url(#gBuF)" transform="rotate(2 724.2 785.2)"/>
<ellipse cx="726.9" cy="787.7" rx="15" ry="35.2" fill="#8c150a"/>
<ellipse cx="726" cy="787.6" rx="9.6" ry="30" fill="url(#gBuF)"/>
<ellipse cx="727.8" cy="780.9" rx="8.5" ry="21.4" fill="#8c150a"/>
<ellipse cx="727.8" cy="780.7" rx="4.5" ry="17" fill="url(#gBuF)"/>
<path d="M724.1 780.8C724.2 779.7 725 775.1 725.7 773.6C726.4 772.1 729 768.1 730 767.7C730.9 767.4 733.5 769.2 734.2 770.9C734.9 772.6 736.3 780.9 735.8 782.4C735.3 783.9 731.3 783.4 730 783.5C728.6 783.5 725 783.5 724.4 783.2C723.7 782.9 723.9 781.9 724.1 780.8Z" fill="#8c150a"/>
</g>
<g id="leaders">
<line x1="216.7" y1="531.2" x2="192.9" y2="625.9" stroke="#000" stroke-width="4.7" stroke-linecap="round"/>
<path d="M230.2 762.8L346.7 764.7M212.3 811.2L346.7 764.7" stroke="#000" stroke-width="5.4" fill="none" stroke-linejoin="round"/>
<path d="M344 762L407.3 758.4A1.6 1.6 0 0 1 407.3 761.6L346 767.6Z" fill="#000"/>
<line class="ln" x1="508" y1="772" x2="449" y2="1098"/>
<line class="ln" x1="585" y1="749.3" x2="708" y2="748.6"/>
<line class="ln" x1="595.7" y1="783.4" x2="708" y2="757"/>
<line class="ln" x1="820" y1="791" x2="762.5" y2="1014"/>
<path class="ln" stroke-linejoin="round" d="M873.1 733.2L1075 818.4L885.9 835.6"/>
<line class="ln" x1="975.5" y1="481.5" x2="1104" y2="745"/>
<line class="ln" x1="1205" y1="816.5" x2="1178.8" y2="983.8"/>
<line class="ln" x1="1283.8" y1="833.8" x2="1197.5" y2="988.8"/>
<line class="ln" x1="1327.5" y1="858.8" x2="1213.8" y2="1000"/>
<line class="ln" x1="1459.5" y1="813" x2="1337" y2="1140"/>
</g>
<ellipse cx="951.5" cy="625.3" rx="0.9" ry="1.1" fill="#111"/><ellipse cx="212" cy="1113.1" rx="1.3" ry="0.9" fill="#111" transform="rotate(-25 212 1113.1)"/>
<g id="labels" stroke="#000" stroke-width="0.7">
<text x="29.1" y="388" font-size="50" text-anchor="start" textLength="448.9" lengthAdjust="spacingAndGlyphs">Fibryla elementarna</text>
<text x="29.1" y="449" font-size="50" text-anchor="start" textLength="601.4" lengthAdjust="spacingAndGlyphs">z celulozowych łańcuchów</text>
<text x="29.2" y="510" font-size="50" text-anchor="start" textLength="367.6" lengthAdjust="spacingAndGlyphs">cząsteczkowych</text>
<text x="727.2" y="453.6" font-size="50" text-anchor="start" textLength="310.1" lengthAdjust="spacingAndGlyphs">Kanał (lumen)</text>
<text x="295.7" y="1156.6" font-size="50" text-anchor="start" textLength="277.7" lengthAdjust="spacingAndGlyphs">Mikrofibryle</text>
<text x="603.6" y="1062" font-size="50" text-anchor="start" textLength="306" lengthAdjust="spacingAndGlyphs">Wiązka fibryli</text>
<text x="1088.7" y="1032" font-size="50" text-anchor="start" textLength="113.4" lengthAdjust="spacingAndGlyphs">Słoje</text>
<text x="1027.9" y="1096.6" font-size="50" text-anchor="start" textLength="254.2" lengthAdjust="spacingAndGlyphs">celulozowe</text>
<text x="1083" y="1199.7" font-size="50" text-anchor="start" textLength="471.2" lengthAdjust="spacingAndGlyphs">Warstwa zewnętrzna</text>
<text x="1199.9" y="1258.8" font-size="50" text-anchor="start" textLength="226.5" lengthAdjust="spacingAndGlyphs">(kutykula)</text>
</g>
</svg>
</body>
</html>
